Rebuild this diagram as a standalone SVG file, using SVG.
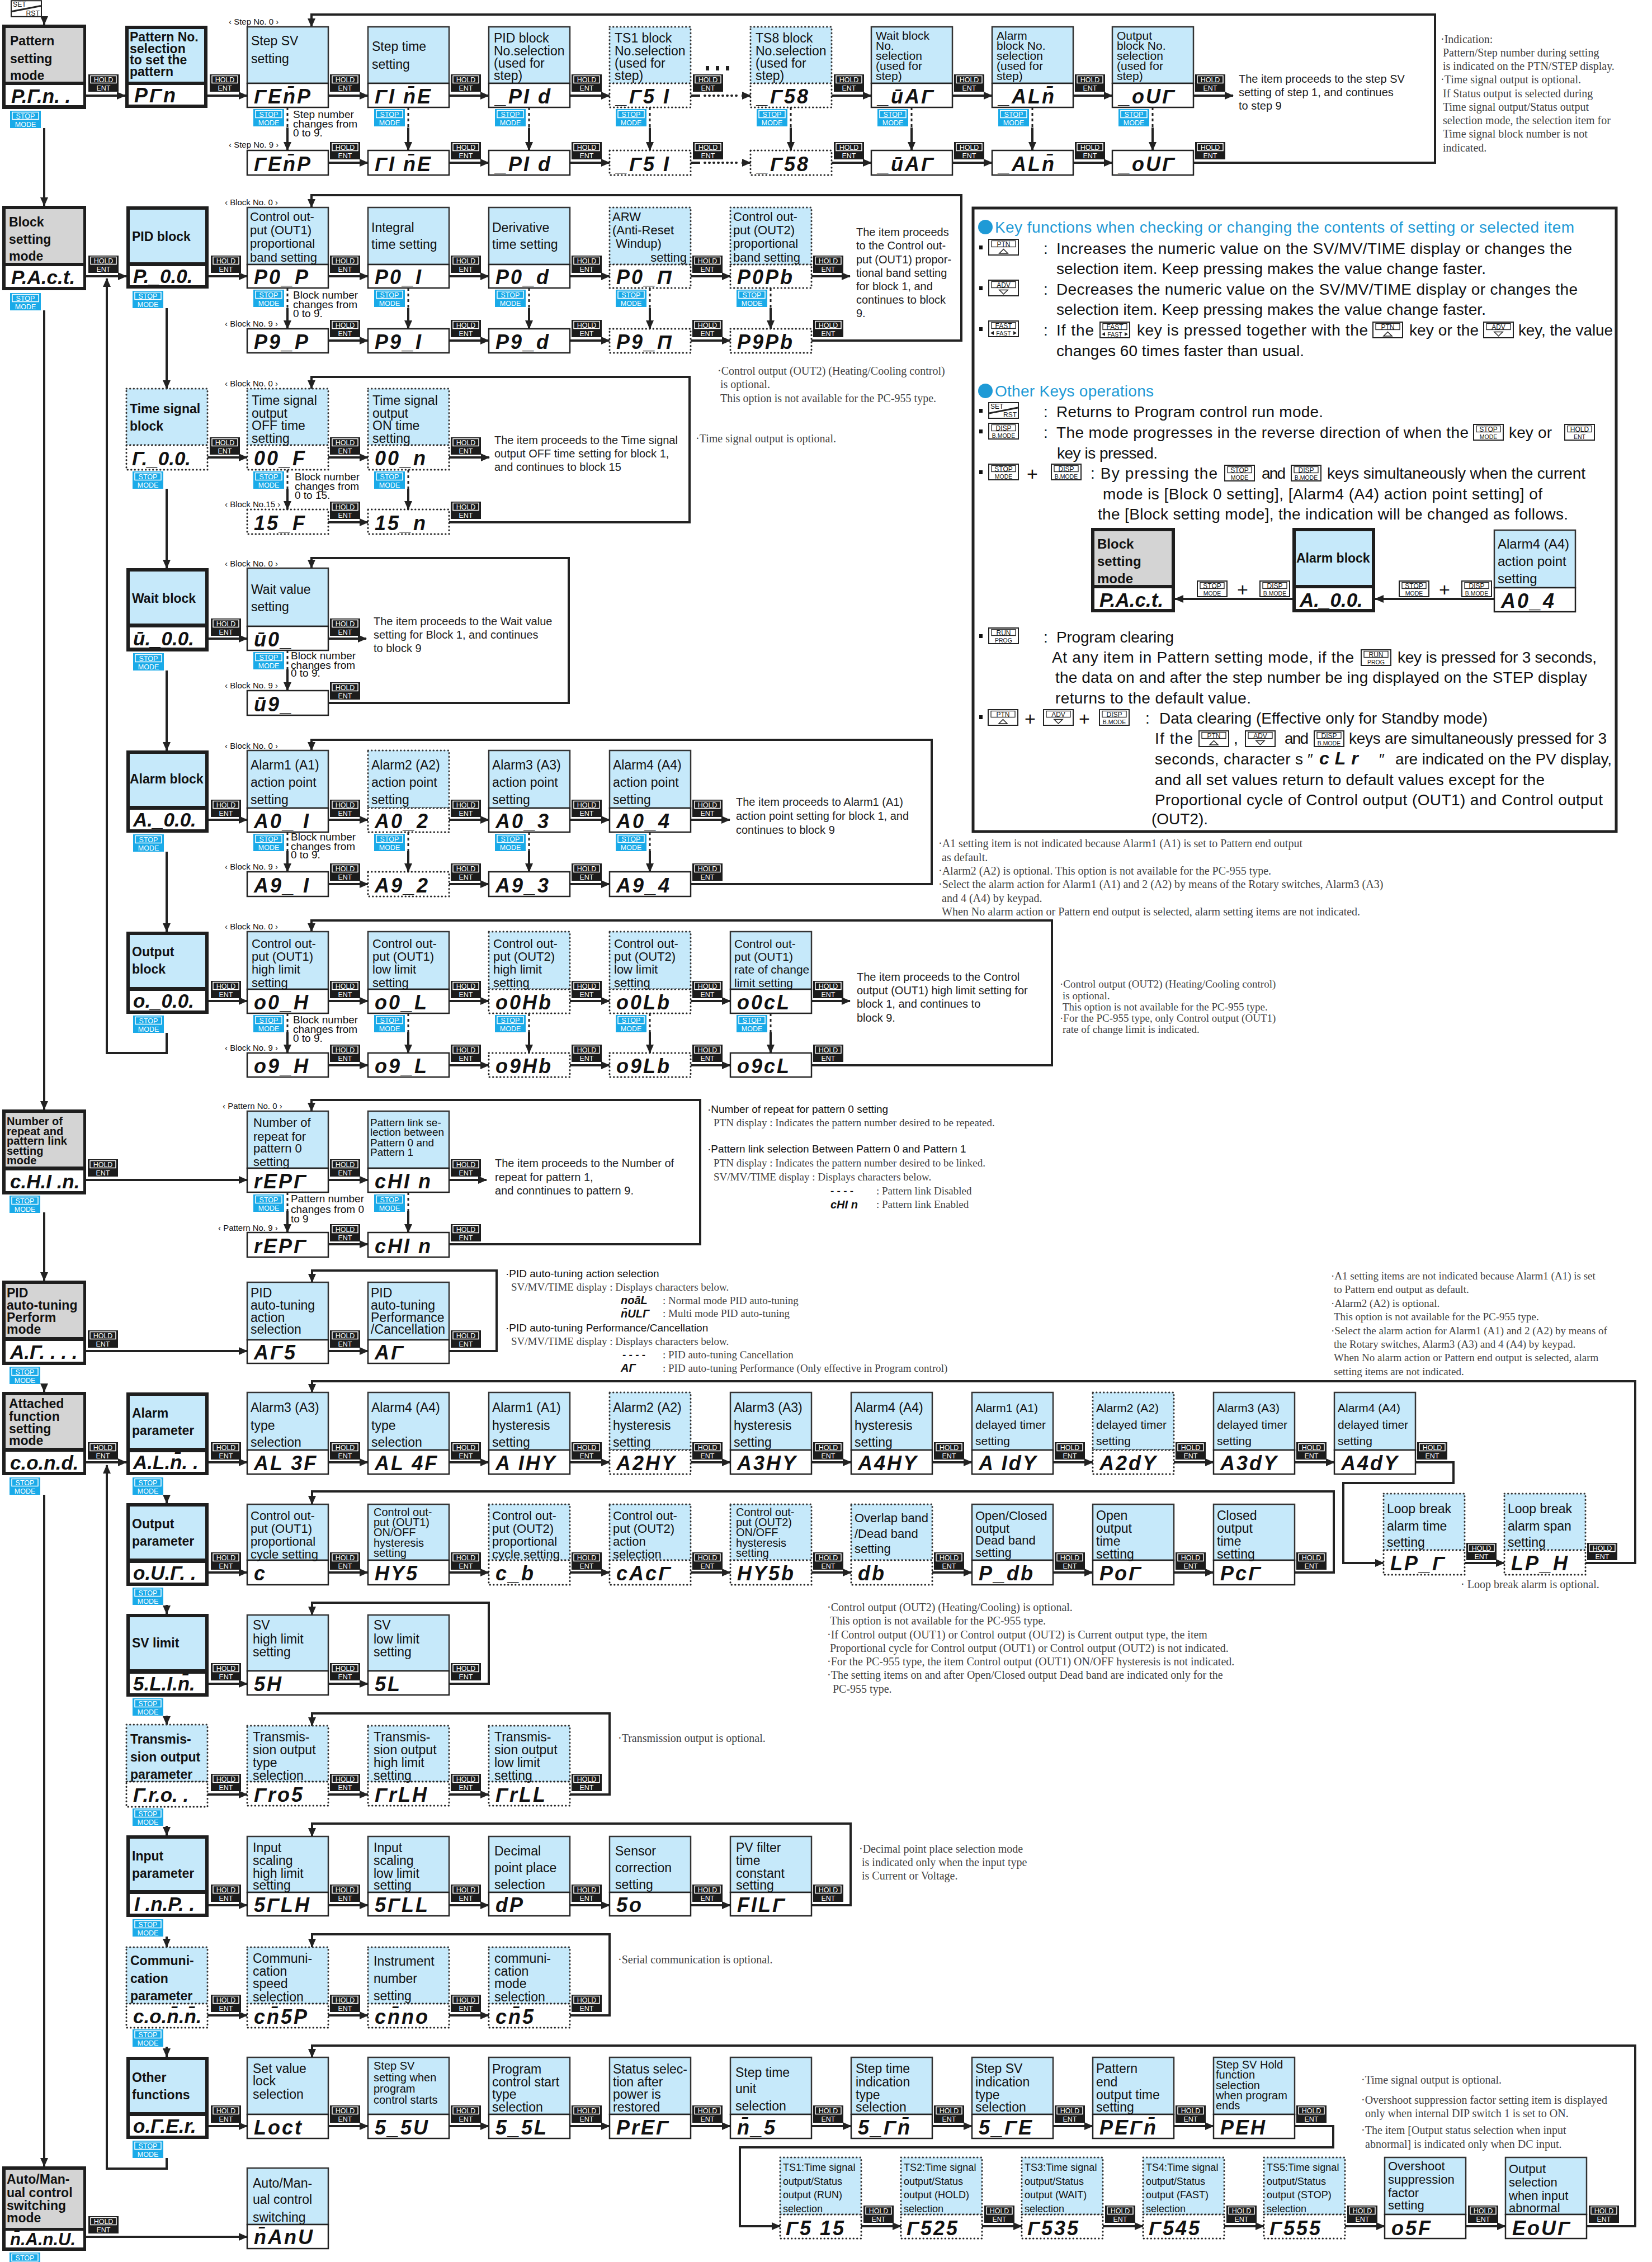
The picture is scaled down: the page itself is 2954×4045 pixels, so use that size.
<svg xmlns="http://www.w3.org/2000/svg" width="2954" height="4045" viewBox="0 0 2954 4045">
<style>
.lb{fill:#c6e9fa;stroke:#333;stroke-width:2.5}
.lbd{fill:#c6e9fa;stroke:#333;stroke-width:3;stroke-dasharray:0.5 6;stroke-linecap:round}
.ds{fill:#fff;stroke:#222;stroke-width:2.5}
.dsd{fill:#fff;stroke:#222;stroke-width:3;stroke-dasharray:0.5 6;stroke-linecap:round}
.fr{fill:#1e1e1e}
.gy{fill:#d4d4d4}
.bl{fill:#c6e9fa}
.wh{fill:#fff}
text{font-family:"Liberation Sans",Arial,sans-serif;fill:#111}
.t{font-size:23px}
.t22{font-size:22px}
.t21{font-size:21px}
.t20{font-size:20px}
.t19{font-size:19px}
.t18{font-size:18px}
.b{font-weight:bold}
.g7{font-size:36px;font-style:italic;font-weight:bold;letter-spacing:3px}
.g7n{font-size:35px;font-style:italic;font-weight:bold;letter-spacing:0px}
.nt{font-family:"Liberation Serif","Times New Roman",serif;font-size:20px;fill:#444}
.nt19{font-family:"Liberation Serif","Times New Roman",serif;font-size:19px;fill:#444}
.sm{font-size:15px}
.pi{font-size:20px;fill:#222}
.pn{font-size:28px}
.ttl{font-size:28px;fill:#1e9ad6}
.kw{fill:#fff;font-size:12.5px}
.kb{fill:#111;font-size:12px}
.kb2{fill:#111;font-size:10.5px}
.ln{fill:none;stroke:#222;stroke-width:4}
.ar{fill:none;stroke:#222;stroke-width:4;marker-end:url(#ah)}
.lnd{fill:none;stroke:#222;stroke-width:3;stroke-dasharray:5 5}
.dt{fill:none;stroke:#222;stroke-width:4;stroke-dasharray:1 7;stroke-linecap:round}
</style>
<defs>
<marker id="ah" markerUnits="userSpaceOnUse" markerWidth="16" markerHeight="14" refX="15" refY="7" orient="auto"><path d="M0,0 L16,7 L0,14 Z" fill="#222"/></marker>
<symbol id="kh" viewBox="0 0 54 31"><rect width="54" height="31" fill="#1c1c1c"/><rect x="4" y="2.5" width="46" height="13" fill="none" stroke="#fff" stroke-width="1.5"/><text class="kw" x="27" y="14" text-anchor="middle">HOLD</text><text class="kw" x="27" y="28.5" text-anchor="middle">ENT</text></symbol>
<symbol id="ks" viewBox="0 0 55 31"><rect width="55" height="31" fill="#1aaae8"/><rect x="4" y="2.5" width="47" height="13" fill="none" stroke="#fff" stroke-width="1.5"/><text class="kw" x="27.5" y="14" text-anchor="middle">STOP</text><text class="kw" x="27.5" y="28.5" text-anchor="middle">MODE</text></symbol>
<symbol id="oPTN" viewBox="0 0 55 30"><rect x="1" y="1" width="53" height="28" fill="#fff" stroke="#222" stroke-width="2"/><rect x="6" y="3.5" width="43" height="11" fill="none" stroke="#222" stroke-width="1.3"/><text class="kb" x="27.5" y="13.5" text-anchor="middle">PTN</text><path d="M20,26 L27.5,18.5 L35,26 Z" fill="none" stroke="#222" stroke-width="1.5"/></symbol>
<symbol id="oADV" viewBox="0 0 55 30"><rect x="1" y="1" width="53" height="28" fill="#fff" stroke="#222" stroke-width="2"/><rect x="6" y="3.5" width="43" height="11" fill="none" stroke="#222" stroke-width="1.3"/><text class="kb" x="27.5" y="13.5" text-anchor="middle">ADV</text><path d="M20,18.5 L35,18.5 L27.5,26 Z" fill="none" stroke="#222" stroke-width="1.5"/></symbol>
<symbol id="oFAST" viewBox="0 0 55 30"><rect x="1" y="1" width="53" height="28" fill="#fff" stroke="#222" stroke-width="2"/><rect x="6" y="3.5" width="43" height="11" fill="none" stroke="#222" stroke-width="1.3"/><text class="kb" x="27.5" y="13.5" text-anchor="middle">FAST</text><text class="kb2" x="27.5" y="26.5" text-anchor="middle">FAST</text><path d="M4,22.5 L10,19 L10,26 Z M51,22.5 L45,19 L45,26 Z" fill="#222"/></symbol>
<symbol id="oSET" viewBox="0 0 55 30"><rect x="1" y="1" width="53" height="28" fill="#fff" stroke="#222" stroke-width="2"/><path d="M2,20 L53,10" stroke="#222" stroke-width="3"/><text class="kb" x="4" y="12">SET</text><text class="kb" x="51" y="27" text-anchor="end">RST</text></symbol>
<symbol id="oDISP" viewBox="0 0 55 30"><rect x="1" y="1" width="53" height="28" fill="#fff" stroke="#222" stroke-width="2"/><rect x="6" y="3.5" width="43" height="11" fill="none" stroke="#222" stroke-width="1.3"/><text class="kb" x="27.5" y="13.5" text-anchor="middle">DISP</text><text class="kb2" x="27.5" y="26.5" text-anchor="middle">B.MODE</text></symbol>
<symbol id="oSTOP" viewBox="0 0 55 30"><rect x="1" y="1" width="53" height="28" fill="#fff" stroke="#222" stroke-width="2"/><rect x="6" y="3.5" width="43" height="11" fill="none" stroke="#222" stroke-width="1.3"/><text class="kb" x="27.5" y="13.5" text-anchor="middle">STOP</text><text class="kb2" x="27.5" y="26.5" text-anchor="middle">MODE</text></symbol>
<symbol id="oHOLD" viewBox="0 0 55 30"><rect x="1" y="1" width="53" height="28" fill="#fff" stroke="#222" stroke-width="2"/><rect x="6" y="3.5" width="43" height="11" fill="none" stroke="#222" stroke-width="1.3"/><text class="kb" x="27.5" y="13.5" text-anchor="middle">HOLD</text><text class="kb2" x="27.5" y="26.5" text-anchor="middle">ENT</text></symbol>
<symbol id="oRUN" viewBox="0 0 55 30"><rect x="1" y="1" width="53" height="28" fill="#fff" stroke="#222" stroke-width="2"/><rect x="6" y="3.5" width="43" height="11" fill="none" stroke="#222" stroke-width="1.3"/><text class="kb" x="27.5" y="13.5" text-anchor="middle">RUN</text><text class="kb2" x="27.5" y="26.5" text-anchor="middle">PROG</text></symbol>
</defs>
<rect width="2954" height="4045" fill="#fff"/>

<!-- ================= CONNECTORS ================= -->
<g id="connectors">
<path class="ar" d="M79,30 V44"/>
<path class="ar" d="M154,171 H224"/><path class="ar" d="M371,171 H442"/><path class="ar" d="M587,171 H658"/><path class="ar" d="M803,171 H874"/><path class="ar" d="M1019,171 H1090"/>
<path class="ln" d="M1235,171 H1252"/><path class="dt" d="M1260,171 H1322"/><path class="ar" d="M1326,171 H1342"/>
<path class="ar" d="M1487,171 H1558"/><path class="ar" d="M1703,171 H1774"/><path class="ar" d="M1919,171 H1989"/><path class="ar" d="M2134,171 H2205"/>
<path class="ar" d="M587,291 H658"/><path class="ar" d="M803,291 H874"/><path class="ar" d="M1019,291 H1090"/>
<path class="ln" d="M1235,291 H1252"/><path class="dt" d="M1260,291 H1322"/><path class="ar" d="M1326,291 H1342"/>
<path class="ar" d="M1487,291 H1558"/><path class="ar" d="M1703,291 H1774"/><path class="ar" d="M1919,291 H1989"/>
<path class="ar" d="M2134,291 H2566 V26 H557 V48"/>
<path class="lnd" d="M514,192 V228 M730,192 V228 M946,192 V228 M1162,192 V228 M1414,192 V228 M1630,192 V228 M1846,192 V228 M2061,192 V228"/>
<path class="ar" d="M514,228 V269"/><path class="ar" d="M730,228 V269"/><path class="ar" d="M946,228 V269"/><path class="ar" d="M1162,228 V269"/><path class="ar" d="M1414,228 V269"/><path class="ar" d="M1630,228 V269"/><path class="ar" d="M1846,228 V269"/><path class="ar" d="M2061,228 V269"/>
<path class="ar" d="M79,229 V368"/>
<path class="ar" d="M153,494 H226"/><path class="ar" d="M373,494 H442"/><path class="ar" d="M587,494 H658"/><path class="ar" d="M803,494 H874"/><path class="ar" d="M1019,494 H1090"/><path class="ar" d="M1235,494 H1306"/><path class="ar" d="M1451,494 H1520"/>
<path class="ar" d="M587,609 H658"/><path class="ar" d="M803,609 H874"/><path class="ar" d="M1019,609 H1090"/><path class="ar" d="M1235,609 H1306"/>
<path class="ar" d="M1451,609 H1719 V349 H557 V371"/>
<path class="lnd" d="M514,515 V551 M730,515 V551 M946,515 V551 M1162,515 V551 M1378,515 V551"/>
<path class="ar" d="M514,551 V588"/><path class="ar" d="M730,551 V588"/><path class="ar" d="M946,551 V588"/><path class="ar" d="M1162,551 V588"/><path class="ar" d="M1378,551 V588"/>
<path class="ar" d="M79,555 V1984"/>
<path class="ar" d="M298,551 V695"/><path class="ar" d="M298,874 V1016"/><path class="ar" d="M298,1199 V1342"/><path class="ar" d="M298,1523 V1666"/>
<path class="ar" d="M298,1847 V1883 H191 V498"/>
<path class="ar" d="M371,818 H442"/><path class="ar" d="M587,818 H658"/><path class="ar" d="M803,818 H875"/>
<path class="ar" d="M587,934 H658"/><path class="ar" d="M803,934 H1233 V674 H557 V695"/>
<path class="lnd" d="M514,840 V874 M730,840 V874"/><path class="ar" d="M514,874 V911"/><path class="ar" d="M730,874 V911"/>
<path class="ar" d="M373,1142 H442"/><path class="ar" d="M587,1142 H655"/>
<path class="ar" d="M587,1257 H1017 V998 H557 V1016"/>
<path class="lnd" d="M514,1163 V1197"/><path class="ar" d="M514,1197 V1235"/>
<path class="ar" d="M373,1466 H442"/><path class="ar" d="M587,1466 H658"/><path class="ar" d="M803,1466 H874"/><path class="ar" d="M1019,1466 H1090"/><path class="ar" d="M1235,1466 H1305"/>
<path class="ar" d="M587,1581 H658"/><path class="ar" d="M803,1581 H874"/><path class="ar" d="M1019,1581 H1090"/>
<path class="ar" d="M1235,1581 H1666 V1323 H557 V1342"/>
<path class="lnd" d="M514,1488 V1522 M730,1488 V1522 M946,1488 V1522 M1162,1488 V1522"/>
<path class="ar" d="M514,1522 V1559"/><path class="ar" d="M730,1522 V1559"/><path class="ar" d="M946,1522 V1559"/><path class="ar" d="M1162,1522 V1559"/>
<path class="ar" d="M373,1790 H442"/><path class="ar" d="M587,1790 H658"/><path class="ar" d="M803,1790 H874"/><path class="ar" d="M1019,1790 H1090"/><path class="ar" d="M1235,1790 H1306"/><path class="ar" d="M1451,1790 H1520"/>
<path class="ar" d="M587,1905 H658"/><path class="ar" d="M803,1905 H874"/><path class="ar" d="M1019,1905 H1090"/><path class="ar" d="M1235,1905 H1306"/>
<path class="ar" d="M1451,1905 H1881 V1646 H557 V1666"/>
<path class="lnd" d="M514,1812 V1846 M730,1812 V1846 M946,1812 V1846 M1162,1812 V1846 M1378,1812 V1846"/>
<path class="ar" d="M514,1846 V1883"/><path class="ar" d="M730,1846 V1883"/><path class="ar" d="M946,1846 V1883"/><path class="ar" d="M1162,1846 V1883"/><path class="ar" d="M1378,1846 V1883"/>
<path class="ar" d="M154,2110 H442"/><path class="ar" d="M587,2110 H658"/><path class="ar" d="M803,2110 H870"/>
<path class="ar" d="M587,2225 H658"/><path class="ar" d="M803,2225 H1252 V1967 H557 V1987"/>
<path class="lnd" d="M514,2132 V2166 M730,2132 V2166"/><path class="ar" d="M514,2166 V2204"/><path class="ar" d="M730,2166 V2204"/>
<path class="ar" d="M79,2168 V2290"/>
<path class="ar" d="M154,2416 H442"/><path class="ar" d="M587,2416 H658"/>
<path class="ar" d="M803,2416 H888 V2272 H558 V2293"/>
<path class="ar" d="M79,2474 V2489"/>
<path class="ar" d="M154,2615 H226"/><path class="ar" d="M373,2615 H442"/><path class="ar" d="M587,2615 H658"/><path class="ar" d="M803,2615 H874"/><path class="ar" d="M1019,2615 H1090"/><path class="ar" d="M1235,2615 H1306"/><path class="ar" d="M1451,2615 H1522"/><path class="ar" d="M1667,2615 H1738"/><path class="ar" d="M1883,2615 H1954"/><path class="ar" d="M2099,2615 H2170"/><path class="ar" d="M2315,2615 H2386"/>
<path class="ar" d="M2531,2615 H2599 V2652 H2402 V2795 H2474"/>
<path class="ar" d="M2619,2795 H2690"/>
<path class="ar" d="M2835,2795 H2924 V2470 H558 V2490"/>
<path class="ar" d="M373,2812 H442"/><path class="ar" d="M587,2812 H658"/><path class="ar" d="M803,2812 H874"/><path class="ar" d="M1019,2812 H1090"/><path class="ar" d="M1235,2812 H1306"/><path class="ar" d="M1451,2812 H1522"/><path class="ar" d="M1667,2812 H1738"/><path class="ar" d="M1883,2812 H1954"/><path class="ar" d="M2099,2812 H2170"/>
<path class="ar" d="M2315,2812 H2385 V2667 H558 V2690"/>
<path class="ar" d="M373,3011 H442"/><path class="ar" d="M587,3011 H658"/><path class="ar" d="M803,3011 H874 V2866 H558 V2888"/>
<path class="ar" d="M371,3209 H442"/><path class="ar" d="M587,3209 H658"/><path class="ar" d="M803,3209 H874"/><path class="ar" d="M1019,3209 H1090 V3064 H558 V3086"/>
<path class="ar" d="M373,3407 H442"/><path class="ar" d="M587,3407 H658"/><path class="ar" d="M803,3407 H874"/><path class="ar" d="M1019,3407 H1090"/><path class="ar" d="M1235,3407 H1306"/><path class="ar" d="M1451,3407 H1521 V3261 H558 V3284"/>
<path class="ar" d="M371,3604 H442"/><path class="ar" d="M587,3604 H658"/><path class="ar" d="M803,3604 H874"/><path class="ar" d="M1019,3604 H1090 V3459 H558 V3482"/>
<path class="ar" d="M373,3802 H442"/><path class="ar" d="M587,3802 H658"/><path class="ar" d="M803,3802 H874"/><path class="ar" d="M1019,3802 H1090"/><path class="ar" d="M1235,3802 H1306"/><path class="ar" d="M1451,3802 H1522"/><path class="ar" d="M1667,3802 H1738"/><path class="ar" d="M1883,3802 H1954"/><path class="ar" d="M2099,3802 H2170"/>
<path class="ar" d="M2315,3802 H2384 V3840 H1323 V3981 H1395"/>
<path class="ar" d="M1540,3981 H1611"/><path class="ar" d="M1756,3981 H1827"/><path class="ar" d="M1972,3981 H2044"/><path class="ar" d="M2189,3981 H2260"/><path class="ar" d="M2405,3981 H2476"/><path class="ar" d="M2621,3981 H2692"/>
<path class="ar" d="M2837,3981 H2924 V3658 H558 V3679"/>
<path class="ar" d="M298,2673 V2688"/><path class="ar" d="M298,2870 V2886"/><path class="ar" d="M298,3068 V3084"/><path class="ar" d="M298,3265 V3282"/><path class="ar" d="M298,3463 V3482"/><path class="ar" d="M298,3660 V3678"/>
<path class="ar" d="M298,3859 V3878 H191 V2620"/>
<path class="ar" d="M79,2673 V3874"/>
<path class="ar" d="M154,4000 H442"/>
<path class="ar" d="M2672,1071 H2459"/><path class="ar" d="M2311,1071 H2101"/>
</g>

<!-- ================= KEYS ================= -->
<g id="keys">
<use href="#oSET" x="19" y="0" width="56" height="31"/>
<use href="#kh" x="158" y="133" width="54" height="31"/><use href="#kh" x="375" y="133" width="54" height="31"/><use href="#kh" x="590" y="133" width="54" height="31"/><use href="#kh" x="806" y="133" width="54" height="31"/><use href="#kh" x="1022" y="133" width="54" height="31"/><use href="#kh" x="1239" y="133" width="54" height="31"/><use href="#kh" x="1491" y="133" width="54" height="31"/><use href="#kh" x="1706" y="133" width="54" height="31"/><use href="#kh" x="1922" y="133" width="54" height="31"/><use href="#kh" x="2137" y="133" width="54" height="31"/>
<use href="#kh" x="590" y="254" width="54" height="31"/><use href="#kh" x="806" y="254" width="54" height="31"/><use href="#kh" x="1022" y="254" width="54" height="31"/><use href="#kh" x="1239" y="254" width="54" height="31"/><use href="#kh" x="1491" y="254" width="54" height="31"/><use href="#kh" x="1706" y="254" width="54" height="31"/><use href="#kh" x="1922" y="254" width="54" height="31"/><use href="#kh" x="2137" y="254" width="54" height="31"/>
<use href="#ks" x="18" y="198" width="55" height="31"/><use href="#ks" x="453" y="195" width="55" height="31"/><use href="#ks" x="669" y="195" width="55" height="31"/><use href="#ks" x="885" y="195" width="55" height="31"/><use href="#ks" x="1101" y="195" width="55" height="31"/><use href="#ks" x="1353" y="195" width="55" height="31"/><use href="#ks" x="1569" y="195" width="55" height="31"/><use href="#ks" x="1785" y="195" width="55" height="31"/><use href="#ks" x="2000" y="195" width="55" height="31"/>
<use href="#kh" x="158" y="457" width="54" height="31"/><use href="#kh" x="377" y="457" width="54" height="31"/><use href="#kh" x="590" y="457" width="54" height="31"/><use href="#kh" x="806" y="457" width="54" height="31"/><use href="#kh" x="1022" y="457" width="54" height="31"/><use href="#kh" x="1238" y="457" width="54" height="31"/><use href="#kh" x="1454" y="457" width="54" height="31"/>
<use href="#kh" x="590" y="572" width="54" height="31"/><use href="#kh" x="806" y="572" width="54" height="31"/><use href="#kh" x="1022" y="572" width="54" height="31"/><use href="#kh" x="1238" y="572" width="54" height="31"/><use href="#kh" x="1454" y="572" width="54" height="31"/>
<use href="#ks" x="18" y="524" width="55" height="31"/><use href="#ks" x="237" y="520" width="55" height="31"/><use href="#ks" x="453" y="518" width="55" height="31"/><use href="#ks" x="669" y="518" width="55" height="31"/><use href="#ks" x="885" y="518" width="55" height="31"/><use href="#ks" x="1101" y="518" width="55" height="31"/><use href="#ks" x="1317" y="518" width="55" height="31"/>
<use href="#kh" x="375" y="782" width="54" height="31"/><use href="#kh" x="590" y="782" width="54" height="31"/><use href="#kh" x="806" y="782" width="54" height="31"/><use href="#kh" x="590" y="897" width="54" height="31"/><use href="#kh" x="806" y="897" width="54" height="31"/>
<use href="#ks" x="237" y="843" width="55" height="31"/><use href="#ks" x="453" y="843" width="55" height="31"/><use href="#ks" x="669" y="843" width="55" height="31"/>
<use href="#kh" x="377" y="1106" width="54" height="31"/><use href="#kh" x="590" y="1106" width="54" height="31"/><use href="#kh" x="590" y="1220" width="54" height="31"/>
<use href="#ks" x="238" y="1168" width="55" height="31"/><use href="#ks" x="453" y="1166" width="55" height="31"/>
<use href="#kh" x="377" y="1430" width="54" height="31"/><use href="#kh" x="590" y="1430" width="54" height="31"/><use href="#kh" x="806" y="1430" width="54" height="31"/><use href="#kh" x="1022" y="1430" width="54" height="31"/><use href="#kh" x="1238" y="1430" width="54" height="31"/>
<use href="#kh" x="590" y="1544" width="54" height="31"/><use href="#kh" x="806" y="1544" width="54" height="31"/><use href="#kh" x="1022" y="1544" width="54" height="31"/><use href="#kh" x="1238" y="1544" width="54" height="31"/>
<use href="#ks" x="238" y="1492" width="55" height="31"/><use href="#ks" x="453" y="1491" width="55" height="31"/><use href="#ks" x="669" y="1491" width="55" height="31"/><use href="#ks" x="885" y="1491" width="55" height="31"/><use href="#ks" x="1101" y="1491" width="55" height="31"/>
<use href="#kh" x="377" y="1754" width="54" height="31"/><use href="#kh" x="590" y="1754" width="54" height="31"/><use href="#kh" x="806" y="1754" width="54" height="31"/><use href="#kh" x="1022" y="1754" width="54" height="31"/><use href="#kh" x="1238" y="1754" width="54" height="31"/><use href="#kh" x="1454" y="1754" width="54" height="31"/>
<use href="#kh" x="590" y="1868" width="54" height="31"/><use href="#kh" x="806" y="1868" width="54" height="31"/><use href="#kh" x="1022" y="1868" width="54" height="31"/><use href="#kh" x="1238" y="1868" width="54" height="31"/><use href="#kh" x="1454" y="1868" width="54" height="31"/>
<use href="#ks" x="238" y="1816" width="55" height="31"/><use href="#ks" x="453" y="1815" width="55" height="31"/><use href="#ks" x="669" y="1815" width="55" height="31"/><use href="#ks" x="885" y="1815" width="55" height="31"/><use href="#ks" x="1101" y="1815" width="55" height="31"/><use href="#ks" x="1317" y="1815" width="55" height="31"/>
<use href="#kh" x="157" y="2073" width="54" height="31"/><use href="#kh" x="590" y="2073" width="54" height="31"/><use href="#kh" x="806" y="2073" width="54" height="31"/><use href="#kh" x="590" y="2189" width="54" height="31"/><use href="#kh" x="806" y="2189" width="54" height="31"/>
<use href="#ks" x="17" y="2138" width="55" height="31"/><use href="#ks" x="453" y="2136" width="55" height="31"/><use href="#ks" x="669" y="2136" width="55" height="31"/>
<use href="#kh" x="157" y="2379" width="54" height="31"/><use href="#kh" x="590" y="2379" width="54" height="31"/><use href="#kh" x="806" y="2379" width="54" height="31"/>
<use href="#ks" x="17" y="2444" width="55" height="31"/>
<use href="#kh" x="157" y="2579" width="54" height="31"/><use href="#kh" x="377" y="2579" width="54" height="31"/><use href="#kh" x="590" y="2579" width="54" height="31"/><use href="#kh" x="806" y="2579" width="54" height="31"/><use href="#kh" x="1022" y="2579" width="54" height="31"/><use href="#kh" x="1238" y="2579" width="54" height="31"/><use href="#kh" x="1454" y="2579" width="54" height="31"/><use href="#kh" x="1670" y="2579" width="54" height="31"/><use href="#kh" x="1886" y="2579" width="54" height="31"/><use href="#kh" x="2102" y="2579" width="54" height="31"/><use href="#kh" x="2318" y="2579" width="54" height="31"/><use href="#kh" x="2534" y="2579" width="54" height="31"/>
<use href="#kh" x="2622" y="2759" width="54" height="31"/><use href="#kh" x="2838" y="2759" width="54" height="31"/>
<use href="#ks" x="17" y="2642" width="55" height="31"/><use href="#ks" x="237" y="2642" width="55" height="31"/>
<use href="#kh" x="377" y="2776" width="54" height="31"/><use href="#kh" x="590" y="2776" width="54" height="31"/><use href="#kh" x="806" y="2776" width="54" height="31"/><use href="#kh" x="1022" y="2776" width="54" height="31"/><use href="#kh" x="1238" y="2776" width="54" height="31"/><use href="#kh" x="1454" y="2776" width="54" height="31"/><use href="#kh" x="1670" y="2776" width="54" height="31"/><use href="#kh" x="1886" y="2776" width="54" height="31"/><use href="#kh" x="2102" y="2776" width="54" height="31"/><use href="#kh" x="2318" y="2776" width="54" height="31"/>
<use href="#ks" x="237" y="2839" width="55" height="31"/>
<use href="#kh" x="377" y="2974" width="54" height="31"/><use href="#kh" x="590" y="2974" width="54" height="31"/><use href="#kh" x="806" y="2974" width="54" height="31"/>
<use href="#ks" x="237" y="3037" width="55" height="31"/>
<use href="#kh" x="377" y="3172" width="54" height="31"/><use href="#kh" x="590" y="3172" width="54" height="31"/><use href="#kh" x="806" y="3172" width="54" height="31"/><use href="#kh" x="1022" y="3172" width="54" height="31"/>
<use href="#ks" x="237" y="3234" width="55" height="31"/>
<use href="#kh" x="377" y="3370" width="54" height="31"/><use href="#kh" x="590" y="3370" width="54" height="31"/><use href="#kh" x="806" y="3370" width="54" height="31"/><use href="#kh" x="1022" y="3370" width="54" height="31"/><use href="#kh" x="1238" y="3370" width="54" height="31"/><use href="#kh" x="1454" y="3370" width="54" height="31"/>
<use href="#ks" x="237" y="3432" width="55" height="31"/>
<use href="#kh" x="377" y="3567" width="54" height="31"/><use href="#kh" x="590" y="3567" width="54" height="31"/><use href="#kh" x="806" y="3567" width="54" height="31"/><use href="#kh" x="1022" y="3567" width="54" height="31"/>
<use href="#ks" x="237" y="3629" width="55" height="31"/>
<use href="#kh" x="377" y="3765" width="54" height="31"/><use href="#kh" x="590" y="3765" width="54" height="31"/><use href="#kh" x="806" y="3765" width="54" height="31"/><use href="#kh" x="1022" y="3765" width="54" height="31"/><use href="#kh" x="1238" y="3765" width="54" height="31"/><use href="#kh" x="1454" y="3765" width="54" height="31"/><use href="#kh" x="1670" y="3765" width="54" height="31"/><use href="#kh" x="1886" y="3765" width="54" height="31"/><use href="#kh" x="2102" y="3765" width="54" height="31"/><use href="#kh" x="2318" y="3765" width="54" height="31"/>
<use href="#ks" x="237" y="3828" width="55" height="31"/>
<use href="#kh" x="1544" y="3944" width="54" height="31"/><use href="#kh" x="1760" y="3944" width="54" height="31"/><use href="#kh" x="1976" y="3944" width="54" height="31"/><use href="#kh" x="2193" y="3944" width="54" height="31"/><use href="#kh" x="2409" y="3944" width="54" height="31"/><use href="#kh" x="2625" y="3944" width="54" height="31"/><use href="#kh" x="2841" y="3944" width="54" height="31"/>
<use href="#kh" x="158" y="3963" width="54" height="31"/>
<use href="#ks" x="17" y="4028" width="55" height="31"/>
</g>

<!-- ================= SECTION: PATTERN ================= -->
<g id="mode-pattern"><rect class="fr" x="4" y="44" width="150" height="151"/><rect class="gy" x="10" y="50" width="139" height="96"/><rect class="wh" x="10" y="152" width="139" height="36"/><text class="t b"><tspan x="18" y="81">Pattern</tspan><tspan x="18" y="113">setting</tspan><tspan x="18" y="143">mode</tspan></text><text class="g7n" x="20" y="184">P.Γ.n. .</text></g>
<g id="n-ptnsel"><rect class="fr" x="224" y="46" width="147" height="147"/><rect class="bl" x="230" y="52" width="135" height="94"/><rect class="wh" x="230" y="152" width="135" height="35"/><text class="t b"><tspan x="232" y="74">Pattern No.</tspan><tspan x="232" y="95">selection</tspan><tspan x="232" y="115">to set the</tspan><tspan x="232" y="136">pattern</tspan></text><text class="g7" x="240" y="183">PΓn</text></g>
<g id="n-stepsv"><rect class="lb" x="442" y="48" width="145" height="101"/><rect class="ds" x="442" y="149" width="145" height="43"/><text class="t"><tspan x="449" y="81">Step SV</tspan><tspan x="449" y="113">setting</tspan></text><text class="g7" x="454" y="185">ΓEn̄P</text></g>
<g id="n-steptime"><rect class="lb" x="658" y="48" width="145" height="101"/><rect class="ds" x="658" y="149" width="145" height="43"/><text class="t"><tspan x="665" y="91">Step time</tspan><tspan x="665" y="123">setting</tspan></text><text class="g7" x="670" y="185">ΓI n̄E</text></g>
<g id="n-pidno"><rect class="lb" x="874" y="48" width="145" height="101"/><rect class="ds" x="874" y="149" width="145" height="43"/><text class="t"><tspan x="883" y="76">PID block</tspan><tspan x="883" y="99">No.selection</tspan><tspan x="883" y="121">(used for</tspan><tspan x="883" y="143">step)</tspan></text><text class="g7" x="886" y="185">_PI d</text></g>
<g id="n-ts1no"><rect class="lbd" x="1090" y="48" width="145" height="101"/><rect class="dsd" x="1090" y="149" width="145" height="43"/><text class="t"><tspan x="1099" y="76">TS1 block</tspan><tspan x="1099" y="99">No.selection</tspan><tspan x="1099" y="121">(used for</tspan><tspan x="1099" y="143">step)</tspan></text><text class="g7" x="1102" y="185">_Γ5 I</text></g>
<g id="dots"><rect x="1262" y="118" width="6" height="8" fill="#222"/><rect x="1280" y="118" width="6" height="8" fill="#222"/><rect x="1298" y="118" width="6" height="8" fill="#222"/></g>
<g id="n-ts8no"><rect class="lbd" x="1342" y="48" width="145" height="101"/><rect class="dsd" x="1342" y="149" width="145" height="43"/><text class="t"><tspan x="1351" y="76">TS8 block</tspan><tspan x="1351" y="99">No.selection</tspan><tspan x="1351" y="121">(used for</tspan><tspan x="1351" y="143">step)</tspan></text><text class="g7" x="1354" y="185">_Γ58</text></g>
<g id="n-waitno"><rect class="lb" x="1558" y="48" width="145" height="101"/><rect class="ds" x="1558" y="149" width="145" height="43"/><text class="t21"><tspan x="1566" y="71">Wait block</tspan><tspan x="1566" y="89">No.</tspan><tspan x="1566" y="107">selection</tspan><tspan x="1566" y="125">(used for</tspan><tspan x="1566" y="143">step)</tspan></text><text class="g7" x="1570" y="185">_ūAΓ</text></g>
<g id="n-alarmno"><rect class="lb" x="1774" y="48" width="145" height="101"/><rect class="ds" x="1774" y="149" width="145" height="43"/><text class="t21"><tspan x="1782" y="71">Alarm</tspan><tspan x="1782" y="89">block No.</tspan><tspan x="1782" y="107">selection</tspan><tspan x="1782" y="125">(used for</tspan><tspan x="1782" y="143">step)</tspan></text><text class="g7" x="1786" y="185">_ALn̄</text></g>
<g id="n-outno"><rect class="lb" x="1989" y="48" width="145" height="101"/><rect class="ds" x="1989" y="149" width="145" height="43"/><text class="t21"><tspan x="1997" y="71">Output</tspan><tspan x="1997" y="89">block No.</tspan><tspan x="1997" y="107">selection</tspan><tspan x="1997" y="125">(used for</tspan><tspan x="1997" y="143">step)</tspan></text><text class="g7" x="2001" y="185">_oUΓ</text></g>
<g id="n-stepsv-9"><rect class="ds" x="442" y="269" width="145" height="44"/><text class="g7" x="454" y="306">ΓEn̄P</text></g>
<g id="n-steptime-9"><rect class="ds" x="658" y="269" width="145" height="44"/><text class="g7" x="670" y="306">ΓI n̄E</text></g>
<g id="n-pidno-9"><rect class="ds" x="874" y="269" width="145" height="44"/><text class="g7" x="886" y="306">_PI d</text></g>
<g id="n-ts1no-9"><rect class="dsd" x="1090" y="269" width="145" height="44"/><text class="g7" x="1102" y="306">_Γ5 I</text></g>
<g id="n-ts8no-9"><rect class="dsd" x="1342" y="269" width="145" height="44"/><text class="g7" x="1354" y="306">_Γ58</text></g>
<g id="n-waitno-9"><rect class="ds" x="1558" y="269" width="145" height="44"/><text class="g7" x="1570" y="306">_ūAΓ</text></g>
<g id="n-alarmno-9"><rect class="ds" x="1774" y="269" width="145" height="44"/><text class="g7" x="1786" y="306">_ALn̄</text></g>
<g id="n-outno-9"><rect class="ds" x="1989" y="269" width="145" height="44"/><text class="g7" x="2001" y="306">_oUΓ</text></g>
<g id="notes-pattern">
<text class="sm" x="409" y="44">‹ Step No. 0 ›</text><text class="sm" x="409" y="264">‹ Step No. 9 ›</text>
<text class="t19"><tspan x="524" y="211">Step number</tspan><tspan x="524" y="228">changes from</tspan><tspan x="524" y="244">0 to 9.</tspan></text>
<text class="pi"><tspan x="2215" y="148">The item proceeds to the step SV</tspan><tspan x="2215" y="172">setting of  step 1, and continues</tspan><tspan x="2215" y="196">to step  9</tspan></text>
<text class="nt"><tspan x="2576" y="77">·Indication:</tspan><tspan x="2580" y="101">Pattern/Step number during setting</tspan><tspan x="2580" y="125">is indicated on the PTN/STEP display.</tspan><tspan x="2576" y="149">·Time signal output is optional.</tspan><tspan x="2580" y="174">If Status output is selected during</tspan><tspan x="2580" y="198">Time signal output/Status output</tspan><tspan x="2580" y="222">selection mode, the selection item for</tspan><tspan x="2580" y="246">Time signal block number is not</tspan><tspan x="2580" y="271">indicated.</tspan></text>
</g>

<!-- ================= SECTION: BLOCK ================= -->
<g id="mode-block"><rect class="fr" x="4" y="368" width="150" height="151"/><rect class="gy" x="10" y="374" width="139" height="96"/><rect class="wh" x="10" y="476" width="139" height="37"/><text class="t b"><tspan x="16" y="405">Block</tspan><tspan x="16" y="436">setting</tspan><tspan x="16" y="466">mode</tspan></text><text class="g7n" x="20" y="508">P.A.c.t.</text></g>
<g id="n-pidblock"><rect class="fr" x="226" y="369" width="147" height="147"/><rect class="bl" x="232" y="375" width="135" height="94"/><rect class="wh" x="232" y="476" width="135" height="34"/><text class="t b" x="236" y="431">PID block</text><text class="g7n" x="238" y="506">P._0.0.</text></g>
<g id="n-p0p"><rect class="lb" x="442" y="371" width="145" height="102"/><rect class="ds" x="442" y="473" width="145" height="42"/><text class="t22"><tspan x="447" y="395">Control out-</tspan><tspan x="447" y="419">put (OUT1)</tspan><tspan x="447" y="443">proportional</tspan><tspan x="447" y="468">band setting</tspan></text><text class="g7" x="454" y="508">P0_P</text></g>
<g id="n-p0i"><rect class="lb" x="658" y="371" width="145" height="102"/><rect class="ds" x="658" y="473" width="145" height="42"/><text class="t"><tspan x="664" y="415">Integral</tspan><tspan x="664" y="445">time setting</tspan></text><text class="g7" x="670" y="508">P0_I</text></g>
<g id="n-p0d"><rect class="lb" x="874" y="371" width="145" height="102"/><rect class="ds" x="874" y="473" width="145" height="42"/><text class="t"><tspan x="880" y="415">Derivative</tspan><tspan x="880" y="445">time setting</tspan></text><text class="g7" x="886" y="508">P0_d</text></g>
<g id="n-p0arw"><rect class="lbd" x="1090" y="371" width="145" height="102"/><rect class="dsd" x="1090" y="473" width="145" height="42"/><text class="t22"><tspan x="1095" y="395">ARW</tspan><tspan x="1095" y="419">(Anti-Reset</tspan><tspan x="1101" y="443">Windup)</tspan></text><text class="t22" x="1228" y="468" text-anchor="end">setting</text><text class="g7" x="1102" y="508">P0_Π</text></g>
<g id="n-p0pb"><rect class="lbd" x="1306" y="371" width="145" height="102"/><rect class="dsd" x="1306" y="473" width="145" height="42"/><text class="t22"><tspan x="1311" y="395">Control out-</tspan><tspan x="1311" y="419">put (OUT2)</tspan><tspan x="1311" y="443">proportional</tspan><tspan x="1311" y="468">band setting</tspan></text><text class="g7" x="1318" y="508">P0Pb</text></g>
<g id="n-p9p"><rect class="ds" x="442" y="588" width="145" height="43"/><text class="g7" x="454" y="624">P9_P</text></g>
<g id="n-p9i"><rect class="ds" x="658" y="588" width="145" height="43"/><text class="g7" x="670" y="624">P9_I</text></g>
<g id="n-p9d"><rect class="ds" x="874" y="588" width="145" height="43"/><text class="g7" x="886" y="624">P9_d</text></g>
<g id="n-p9arw"><rect class="dsd" x="1090" y="588" width="145" height="43"/><text class="g7" x="1102" y="624">P9_Π</text></g>
<g id="n-p9pb"><rect class="dsd" x="1306" y="588" width="145" height="43"/><text class="g7" x="1318" y="624">P9Pb</text></g>
<g id="notes-block">
<text class="sm" x="402" y="367">‹ Block No. 0 ›</text><text class="sm" x="402" y="584">‹ Block No. 9 ›</text>
<text class="t19"><tspan x="524" y="534">Block number</tspan><tspan x="524" y="551">changes from</tspan><tspan x="524" y="567">0 to 9.</tspan></text>
<text class="pi"><tspan x="1531" y="422">The item proceeds</tspan><tspan x="1531" y="446">to the Control out-</tspan><tspan x="1531" y="471">put (OUT1) propor-</tspan><tspan x="1531" y="495">tional band setting</tspan><tspan x="1531" y="519">for block 1, and</tspan><tspan x="1531" y="543">continues to block</tspan><tspan x="1531" y="567">9.</tspan></text>
<text class="nt"><tspan x="1283" y="670">·Control output (OUT2) (Heating/Cooling control)</tspan><tspan x="1288" y="694">is optional.</tspan><tspan x="1288" y="719">This option is not available for the PC-955 type.</tspan></text>
<text class="nt" x="1244" y="791">·Time signal output is optional.</text>
</g>

<g id="n-tsblock"><rect class="lbd" x="226" y="695" width="145" height="101"/><rect class="dsd" x="226" y="796" width="145" height="44"/><text class="t b"><tspan x="232" y="739">Time signal</tspan><tspan x="232" y="770">block</tspan></text><text class="g7n" x="236" y="832">Γ._0.0.</text></g>
<g id="n-00f"><rect class="lbd" x="442" y="695" width="145" height="101"/><rect class="dsd" x="442" y="796" width="145" height="44"/><text class="t"><tspan x="450" y="724">Time signal</tspan><tspan x="450" y="747">output</tspan><tspan x="450" y="769">OFF time</tspan><tspan x="450" y="792">setting</tspan></text><text class="g7" x="454" y="832">00_F</text></g>
<g id="n-00n"><rect class="lbd" x="658" y="695" width="145" height="101"/><rect class="dsd" x="658" y="796" width="145" height="44"/><text class="t"><tspan x="666" y="724">Time signal</tspan><tspan x="666" y="747">output</tspan><tspan x="666" y="769">ON time</tspan><tspan x="666" y="792">setting</tspan></text><text class="g7" x="670" y="832">00_n</text></g>
<g id="n-15f"><rect class="dsd" x="442" y="911" width="145" height="44"/><text class="g7" x="454" y="948">15_F</text></g>
<g id="n-15n"><rect class="dsd" x="658" y="911" width="145" height="44"/><text class="g7" x="670" y="948">15_n</text></g>
<g id="notes-ts">
<text class="sm" x="402" y="691">‹ Block No. 0 ›</text><text class="sm" x="402" y="907">‹ Block No.15 ›</text>
<text class="t19"><tspan x="527" y="859">Block number</tspan><tspan x="527" y="876">changes from</tspan><tspan x="527" y="892">0 to 15.</tspan></text>
<text class="pi"><tspan x="884" y="794">The item proceeds to the Time signal</tspan><tspan x="884" y="818">output OFF time setting for block 1,</tspan><tspan x="884" y="842">and continues to block 15</tspan></text>
</g>

<g id="n-waitblock"><rect class="fr" x="226" y="1016" width="147" height="149"/><rect class="bl" x="232" y="1022" width="135" height="93"/><rect class="wh" x="232" y="1122" width="135" height="36"/><text class="t b" x="236" y="1078">Wait block</text><text class="g7n" x="238" y="1154">ū._0.0.</text></g>
<g id="n-w0"><rect class="lb" x="442" y="1016" width="145" height="104"/><rect class="ds" x="442" y="1120" width="145" height="43"/><text class="t"><tspan x="449" y="1062">Wait value</tspan><tspan x="449" y="1093">setting</tspan></text><text class="g7" x="454" y="1156">ū0_</text></g>
<g id="n-w9"><rect class="ds" x="442" y="1235" width="145" height="44"/><text class="g7" x="454" y="1272">ū9_</text></g>
<g id="notes-wait">
<text class="sm" x="402" y="1013">‹ Block No. 0 ›</text><text class="sm" x="402" y="1231">‹ Block No. 9 ›</text>
<text class="t19"><tspan x="520" y="1179">Block number</tspan><tspan x="520" y="1196">changes from</tspan><tspan x="520" y="1210">0 to 9.</tspan></text>
<text class="pi"><tspan x="668" y="1118">The item proceeds to the Wait value</tspan><tspan x="668" y="1142">setting for Block 1, and continues</tspan><tspan x="668" y="1166">to block 9</tspan></text>
</g>

<g id="n-alarmblock"><rect class="fr" x="226" y="1342" width="147" height="147"/><rect class="bl" x="232" y="1348" width="135" height="93"/><rect class="wh" x="232" y="1448" width="135" height="35"/><text class="t b" x="232" y="1401">Alarm block</text><text class="g7n" x="238" y="1478">A._0.0.</text></g>
<g id="n-a01"><rect class="lb" x="442" y="1342" width="145" height="103"/><rect class="ds" x="442" y="1445" width="145" height="43"/><text class="t"><tspan x="448" y="1376">Alarm1 (A1)</tspan><tspan x="448" y="1407">action point</tspan><tspan x="448" y="1438">setting</tspan></text><text class="g7" x="454" y="1481">A0_ I</text></g>
<g id="n-a02"><rect class="lbd" x="658" y="1342" width="145" height="103"/><rect class="dsd" x="658" y="1445" width="145" height="43"/><text class="t"><tspan x="664" y="1376">Alarm2 (A2)</tspan><tspan x="664" y="1407">action point</tspan><tspan x="664" y="1438">setting</tspan></text><text class="g7" x="670" y="1481">A0_2</text></g>
<g id="n-a03"><rect class="lb" x="874" y="1342" width="145" height="103"/><rect class="ds" x="874" y="1445" width="145" height="43"/><text class="t"><tspan x="880" y="1376">Alarm3 (A3)</tspan><tspan x="880" y="1407">action point</tspan><tspan x="880" y="1438">setting</tspan></text><text class="g7" x="886" y="1481">A0_3</text></g>
<g id="n-a04"><rect class="lb" x="1090" y="1342" width="145" height="103"/><rect class="ds" x="1090" y="1445" width="145" height="43"/><text class="t"><tspan x="1096" y="1376">Alarm4 (A4)</tspan><tspan x="1096" y="1407">action point</tspan><tspan x="1096" y="1438">setting</tspan></text><text class="g7" x="1102" y="1481">A0_4</text></g>
<g id="n-a91"><rect class="ds" x="442" y="1559" width="145" height="44"/><text class="g7" x="454" y="1596">A9_ I</text></g>
<g id="n-a92"><rect class="dsd" x="658" y="1559" width="145" height="44"/><text class="g7" x="670" y="1596">A9_2</text></g>
<g id="n-a93"><rect class="ds" x="874" y="1559" width="145" height="44"/><text class="g7" x="886" y="1596">A9_3</text></g>
<g id="n-a94"><rect class="ds" x="1090" y="1559" width="145" height="44"/><text class="g7" x="1102" y="1596">A9_4</text></g>
<g id="notes-alarm">
<text class="sm" x="402" y="1339">‹ Block No. 0 ›</text><text class="sm" x="402" y="1555">‹ Block No. 9 ›</text>
<text class="t19"><tspan x="520" y="1503">Block number</tspan><tspan x="520" y="1520">changes from</tspan><tspan x="520" y="1535">0 to 9.</tspan></text>
<text class="pi"><tspan x="1316" y="1441">The item proceeds to Alarm1 (A1)</tspan><tspan x="1316" y="1466">action point setting for block 1, and</tspan><tspan x="1316" y="1491">continues to block 9</tspan></text>
<text class="nt"><tspan x="1678" y="1515">·A1 setting item is not indicated because Alarm1 (A1) is set to Pattern end output</tspan><tspan x="1684" y="1540">as default.</tspan><tspan x="1678" y="1564">·Alarm2 (A2) is optional. This option is not available for the PC-955 type.</tspan><tspan x="1678" y="1588">·Select the alarm action for Alarm1 (A1) and 2 (A2) by means of the Rotary switches, Alarm3 (A3)</tspan><tspan x="1684" y="1613">and 4 (A4) by keypad.</tspan><tspan x="1684" y="1637">When No alarm action or Pattern end output is selected, alarm setting items are not  indicated.</tspan></text>
</g>

<g id="n-outblock"><rect class="fr" x="226" y="1666" width="147" height="147"/><rect class="bl" x="232" y="1672" width="135" height="93"/><rect class="wh" x="232" y="1772" width="135" height="35"/><text class="t b"><tspan x="236" y="1710">Output</tspan><tspan x="236" y="1741">block</tspan></text><text class="g7n" x="238" y="1802">o._0.0.</text></g>
<g id="n-o0h"><rect class="lb" x="442" y="1666" width="145" height="103"/><rect class="ds" x="442" y="1769" width="145" height="43"/><text class="t22"><tspan x="450" y="1695">Control out-</tspan><tspan x="450" y="1718">put (OUT1)</tspan><tspan x="450" y="1741">high limit</tspan><tspan x="450" y="1765">setting</tspan></text><text class="g7" x="454" y="1805">o0_H</text></g>
<g id="n-o0l"><rect class="lb" x="658" y="1666" width="145" height="103"/><rect class="ds" x="658" y="1769" width="145" height="43"/><text class="t22"><tspan x="666" y="1695">Control out-</tspan><tspan x="666" y="1718">put (OUT1)</tspan><tspan x="666" y="1741">low limit</tspan><tspan x="666" y="1765">setting</tspan></text><text class="g7" x="670" y="1805">o0_L</text></g>
<g id="n-o0hb"><rect class="lbd" x="874" y="1666" width="145" height="103"/><rect class="dsd" x="874" y="1769" width="145" height="43"/><text class="t22"><tspan x="882" y="1695">Control out-</tspan><tspan x="882" y="1718">put (OUT2)</tspan><tspan x="882" y="1741">high limit</tspan><tspan x="882" y="1765">setting</tspan></text><text class="g7" x="886" y="1805">o0Hb</text></g>
<g id="n-o0lb"><rect class="lbd" x="1090" y="1666" width="145" height="103"/><rect class="dsd" x="1090" y="1769" width="145" height="43"/><text class="t22"><tspan x="1098" y="1695">Control out-</tspan><tspan x="1098" y="1718">put (OUT2)</tspan><tspan x="1098" y="1741">low limit</tspan><tspan x="1098" y="1765">setting</tspan></text><text class="g7" x="1102" y="1805">o0Lb</text></g>
<g id="n-o0cl"><rect class="lb" x="1306" y="1666" width="145" height="103"/><rect class="ds" x="1306" y="1769" width="145" height="43"/><text class="t21"><tspan x="1313" y="1695">Control out-</tspan><tspan x="1313" y="1718">put (OUT1)</tspan><tspan x="1313" y="1741">rate of change</tspan><tspan x="1313" y="1765">limit setting</tspan></text><text class="g7" x="1318" y="1805">o0cL</text></g>
<g id="n-o9h"><rect class="ds" x="442" y="1883" width="145" height="43"/><text class="g7" x="454" y="1919">o9_H</text></g>
<g id="n-o9l"><rect class="ds" x="658" y="1883" width="145" height="43"/><text class="g7" x="670" y="1919">o9_L</text></g>
<g id="n-o9hb"><rect class="dsd" x="874" y="1883" width="145" height="43"/><text class="g7" x="886" y="1919">o9Hb</text></g>
<g id="n-o9lb"><rect class="dsd" x="1090" y="1883" width="145" height="43"/><text class="g7" x="1102" y="1919">o9Lb</text></g>
<g id="n-o9cl"><rect class="ds" x="1306" y="1883" width="145" height="43"/><text class="g7" x="1318" y="1919">o9cL</text></g>
<g id="notes-output">
<text class="sm" x="402" y="1662">‹ Block No. 0 ›</text><text class="sm" x="402" y="1879">‹ Block No. 9 ›</text>
<text class="t19"><tspan x="524" y="1830">Block number</tspan><tspan x="524" y="1847">changes from</tspan><tspan x="524" y="1863">0 to 9.</tspan></text>
<text class="pi"><tspan x="1532" y="1754">The item proceeds to the Control</tspan><tspan x="1532" y="1778">output (OUT1) high limit setting for</tspan><tspan x="1532" y="1802">block 1, and continues to</tspan><tspan x="1532" y="1827">block 9.</tspan></text>
<text class="nt19"><tspan x="1895" y="1766">·Control output (OUT2) (Heating/Cooling control)</tspan><tspan x="1900" y="1787">is optional.</tspan><tspan x="1900" y="1807">This option is not available for the PC-955 type.</tspan><tspan x="1895" y="1827">·For the PC-955 type, only Control output (OUT1)</tspan><tspan x="1900" y="1847">rate of change limit is indicated.</tspan></text>
</g>

<!-- ================= SECTION: REPEAT / LINK ================= -->
<g id="mode-repeat"><rect class="fr" x="4" y="1984" width="150" height="152"/><rect class="gy" x="10" y="1990" width="139" height="96"/><rect class="wh" x="10" y="2093" width="139" height="37"/><text class="t20 b"><tspan x="12" y="2012">Number of</tspan><tspan x="12" y="2030">repeat and</tspan><tspan x="12" y="2047">pattern link</tspan><tspan x="12" y="2065">setting</tspan><tspan x="12" y="2082">mode</tspan></text><text class="g7n" x="18" y="2125">c.H.I .n.</text></g>
<g id="n-repeat"><rect class="lb" x="442" y="1987" width="145" height="102"/><rect class="ds" x="442" y="2089" width="145" height="43"/><text class="t22"><tspan x="453" y="2015">Number of</tspan><tspan x="453" y="2040">repeat for</tspan><tspan x="453" y="2061">pattern 0</tspan><tspan x="453" y="2085">setting</tspan></text><text class="g7" x="454" y="2125">rEPΓ</text></g>
<g id="n-link"><rect class="lb" x="658" y="1987" width="145" height="102"/><rect class="ds" x="658" y="2089" width="145" height="43"/><text class="t19"><tspan x="662" y="2014">Pattern link se-</tspan><tspan x="662" y="2031">lection between</tspan><tspan x="662" y="2050">Pattern 0 and</tspan><tspan x="662" y="2067">Pattern 1</tspan></text><text class="g7" x="670" y="2125">cHI n</text></g>
<g id="n-repeat-9"><rect class="ds" x="442" y="2204" width="145" height="44"/><text class="g7" x="454" y="2241">rEPΓ</text></g>
<g id="n-link-9"><rect class="ds" x="658" y="2204" width="145" height="44"/><text class="g7" x="670" y="2241">cHI n</text></g>
<g id="notes-repeat">
<text class="sm" x="398" y="1983">‹ Pattern No. 0 ›</text><text class="sm" x="390" y="2201">‹ Pattern No. 9 ›</text>
<text class="t19"><tspan x="520" y="2150">Pattern number</tspan><tspan x="520" y="2169">changes from 0</tspan><tspan x="520" y="2186">to 9</tspan></text>
<text class="pi"><tspan x="885" y="2087">The item proceeds to the Number of</tspan><tspan x="885" y="2112">repeat for pattern 1,</tspan><tspan x="885" y="2136">and conntinues to pattern 9.</tspan></text>
<text class="t19" x="1265" y="1990">·Number of repeat for pattern 0 setting</text>
<text class="nt19" x="1276" y="2014">PTN display : Indicates the pattern number desired to be repeated.</text>
<text class="t19" x="1265" y="2061">·Pattern link selection Between Pattern 0 and Pattern 1</text>
<text class="nt19"><tspan x="1276" y="2086">PTN display : Indicates the pattern number desired to be linked.</tspan><tspan x="1276" y="2111">SV/MV/TIME display : Displays characters below.</tspan></text>
<text class="t19 b" x="1485" y="2136">- - - -</text><text class="nt19" x="1567" y="2136">: Pattern link Disabled</text>
<text class="t20" style="font-style:italic;font-weight:bold" x="1485" y="2161">cHI n</text><text class="nt19" x="1567" y="2160">: Pattern link Enabled</text>
</g>

<!-- ================= SECTION: PID AT ================= -->
<g id="mode-at"><rect class="fr" x="4" y="2290" width="150" height="151"/><rect class="gy" x="10" y="2296" width="139" height="95"/><rect class="wh" x="10" y="2398" width="139" height="37"/><text class="t b"><tspan x="12" y="2320">PID</tspan><tspan x="12" y="2342">auto-tuning</tspan><tspan x="12" y="2364">Perform</tspan><tspan x="12" y="2385">mode</tspan></text><text class="g7n" x="18" y="2430">A.Γ. . . .</text></g>
<g id="n-ats"><rect class="lb" x="442" y="2293" width="145" height="103"/><rect class="ds" x="442" y="2396" width="145" height="42"/><text class="t"><tspan x="448" y="2320">PID</tspan><tspan x="448" y="2342">auto-tuning</tspan><tspan x="448" y="2364">action</tspan><tspan x="448" y="2385">selection</tspan></text><text class="g7" x="454" y="2431">AΓ5</text></g>
<g id="n-at"><rect class="lb" x="658" y="2293" width="145" height="103"/><rect class="ds" x="658" y="2396" width="145" height="42"/><text class="t"><tspan x="663" y="2320">PID</tspan><tspan x="663" y="2342">auto-tuning</tspan><tspan x="663" y="2364">Performance</tspan><tspan x="663" y="2385">/Cancellation</tspan></text><text class="g7" x="670" y="2431">AΓ</text></g>
<g id="notes-at">
<text class="t19" x="904" y="2284">·PID auto-tuning action selection</text>
<text class="nt19" x="914" y="2308">SV/MV/TIME display : Displays characters  below.</text>
<text class="t20" style="font-style:italic;font-weight:bold" x="1110" y="2332">noāL</text><text class="nt19" x="1185" y="2332">: Normal mode PID auto-tuning</text>
<text class="t20" style="font-style:italic;font-weight:bold" x="1110" y="2356">n̄ULΓ</text><text class="nt19" x="1185" y="2355">: Multi mode PID auto-tuning</text>
<text class="t19" x="904" y="2381">·PID auto-tuning Performance/Cancellation</text>
<text class="nt19" x="914" y="2405">SV/MV/TIME display : Displays characters below.</text>
<text class="t19 b" x="1113" y="2429">- - - -</text><text class="nt19" x="1185" y="2429">: PID auto-tuning Cancellation</text>
<text class="t20" style="font-style:italic;font-weight:bold" x="1110" y="2453">AΓ</text><text class="nt19" x="1185" y="2453">: PID auto-tuning Performance (Only effective in Program control)</text>
<text class="nt19"><tspan x="2380" y="2288">·A1 setting items are not indicated because Alarm1 (A1) is set</tspan><tspan x="2385" y="2312">to Pattern end output as default.</tspan><tspan x="2380" y="2337">·Alarm2 (A2) is optional.</tspan><tspan x="2385" y="2361">This option is not available for the PC-955 type.</tspan><tspan x="2380" y="2386">·Select the alarm action for Alarm1 (A1) and 2 (A2) by means of</tspan><tspan x="2385" y="2410">the Rotary switches, Alarm3 (A3) and 4 (A4) by keypad.</tspan><tspan x="2385" y="2434">When No alarm action or Pattern end output is selected, alarm</tspan><tspan x="2385" y="2459">setting items are not indicated.</tspan></text>
</g>

<!-- ================= SECTION: ATTACHED ================= -->
<g id="mode-attached"><rect class="fr" x="4" y="2489" width="150" height="149"/><rect class="gy" x="10" y="2495" width="139" height="94"/><rect class="wh" x="10" y="2596" width="139" height="36"/><text class="t b"><tspan x="16" y="2518">Attached</tspan><tspan x="16" y="2541">function</tspan><tspan x="16" y="2563">setting</tspan><tspan x="16" y="2584">mode</tspan></text><text class="g7n" x="18" y="2628">c.o.n.d.</text></g>
<g id="n-alarmparam"><rect class="fr" x="226" y="2490" width="147" height="148"/><rect class="bl" x="232" y="2496" width="135" height="93"/><rect class="wh" x="232" y="2597" width="135" height="35"/><text class="t b"><tspan x="236" y="2535">Alarm</tspan><tspan x="236" y="2566">parameter</tspan></text><text class="g7n" x="238" y="2627">A.L.n̄. .</text></g>
<g id="n-al3f"><rect class="lb" x="442" y="2490" width="145" height="103"/><rect class="ds" x="442" y="2593" width="145" height="43"/><text class="t"><tspan x="448" y="2525">Alarm3 (A3)</tspan><tspan x="448" y="2557">type</tspan><tspan x="448" y="2587">selection</tspan></text><text class="g7" x="454" y="2629">AL 3F</text></g>
<g id="n-al4f"><rect class="lb" x="658" y="2490" width="145" height="103"/><rect class="ds" x="658" y="2593" width="145" height="43"/><text class="t"><tspan x="664" y="2525">Alarm4 (A4)</tspan><tspan x="664" y="2557">type</tspan><tspan x="664" y="2587">selection</tspan></text><text class="g7" x="670" y="2629">AL 4F</text></g>
<g id="n-a1hy"><rect class="lb" x="874" y="2490" width="145" height="103"/><rect class="ds" x="874" y="2593" width="145" height="43"/><text class="t"><tspan x="880" y="2525">Alarm1 (A1)</tspan><tspan x="880" y="2557">hysteresis</tspan><tspan x="880" y="2587">setting</tspan></text><text class="g7" x="886" y="2629">A IHY</text></g>
<g id="n-a2hy"><rect class="lbd" x="1090" y="2490" width="145" height="103"/><rect class="dsd" x="1090" y="2593" width="145" height="43"/><text class="t"><tspan x="1096" y="2525">Alarm2 (A2)</tspan><tspan x="1096" y="2557">hysteresis</tspan><tspan x="1096" y="2587">setting</tspan></text><text class="g7" x="1102" y="2629">A2HY</text></g>
<g id="n-a3hy"><rect class="lb" x="1306" y="2490" width="145" height="103"/><rect class="ds" x="1306" y="2593" width="145" height="43"/><text class="t"><tspan x="1312" y="2525">Alarm3 (A3)</tspan><tspan x="1312" y="2557">hysteresis</tspan><tspan x="1312" y="2587">setting</tspan></text><text class="g7" x="1318" y="2629">A3HY</text></g>
<g id="n-a4hy"><rect class="lb" x="1522" y="2490" width="145" height="103"/><rect class="ds" x="1522" y="2593" width="145" height="43"/><text class="t"><tspan x="1528" y="2525">Alarm4 (A4)</tspan><tspan x="1528" y="2557">hysteresis</tspan><tspan x="1528" y="2587">setting</tspan></text><text class="g7" x="1534" y="2629">A4HY</text></g>
<g id="n-a1dy"><rect class="lb" x="1738" y="2490" width="145" height="103"/><rect class="ds" x="1738" y="2593" width="145" height="43"/><text class="t21"><tspan x="1744" y="2525">Alarm1 (A1)</tspan><tspan x="1744" y="2555">delayed timer</tspan><tspan x="1744" y="2584">setting</tspan></text><text class="g7" x="1750" y="2629">A IdY</text></g>
<g id="n-a2dy"><rect class="lbd" x="1954" y="2490" width="145" height="103"/><rect class="dsd" x="1954" y="2593" width="145" height="43"/><text class="t21"><tspan x="1960" y="2525">Alarm2 (A2)</tspan><tspan x="1960" y="2555">delayed timer</tspan><tspan x="1960" y="2584">setting</tspan></text><text class="g7" x="1966" y="2629">A2dY</text></g>
<g id="n-a3dy"><rect class="lb" x="2170" y="2490" width="145" height="103"/><rect class="ds" x="2170" y="2593" width="145" height="43"/><text class="t21"><tspan x="2176" y="2525">Alarm3 (A3)</tspan><tspan x="2176" y="2555">delayed timer</tspan><tspan x="2176" y="2584">setting</tspan></text><text class="g7" x="2182" y="2629">A3dY</text></g>
<g id="n-a4dy"><rect class="lb" x="2386" y="2490" width="145" height="103"/><rect class="ds" x="2386" y="2593" width="145" height="43"/><text class="t21"><tspan x="2392" y="2525">Alarm4 (A4)</tspan><tspan x="2392" y="2555">delayed timer</tspan><tspan x="2392" y="2584">setting</tspan></text><text class="g7" x="2398" y="2629">A4dY</text></g>
<g id="n-lpt"><rect class="lbd" x="2474" y="2671" width="145" height="101"/><rect class="dsd" x="2474" y="2772" width="145" height="44"/><text class="t"><tspan x="2480" y="2706">Loop break</tspan><tspan x="2480" y="2737">alarm time</tspan><tspan x="2480" y="2766">setting</tspan></text><text class="g7" x="2486" y="2808">LP_Γ</text></g>
<g id="n-lph"><rect class="lbd" x="2690" y="2671" width="145" height="101"/><rect class="dsd" x="2690" y="2772" width="145" height="44"/><text class="t"><tspan x="2696" y="2706">Loop break</tspan><tspan x="2696" y="2737">alarm span</tspan><tspan x="2696" y="2766">setting</tspan></text><text class="g7" x="2702" y="2808">LP_H</text></g>
<text class="nt" x="2612" y="2840">· Loop break alarm is optional.</text>

<g id="n-outparam"><rect class="fr" x="226" y="2688" width="147" height="148"/><rect class="bl" x="232" y="2694" width="135" height="93"/><rect class="wh" x="232" y="2795" width="135" height="35"/><text class="t b"><tspan x="236" y="2733">Output</tspan><tspan x="236" y="2764">parameter</tspan></text><text class="g7n" x="238" y="2825">o.U.Γ. .</text></g>
<g id="n-c"><rect class="lb" x="442" y="2690" width="145" height="100"/><rect class="ds" x="442" y="2790" width="145" height="44"/><text class="t22"><tspan x="448" y="2718">Control out-</tspan><tspan x="448" y="2741">put (OUT1)</tspan><tspan x="448" y="2764">proportional</tspan><tspan x="448" y="2787">cycle setting</tspan></text><text class="g7" x="454" y="2826">c</text></g>
<g id="n-hys"><rect class="lb" x="658" y="2690" width="145" height="100"/><rect class="ds" x="658" y="2790" width="145" height="44"/><text class="t20"><tspan x="668" y="2711">Control out-</tspan><tspan x="668" y="2729">put (OUT1)</tspan><tspan x="668" y="2747">ON/OFF</tspan><tspan x="668" y="2766">hysteresis</tspan><tspan x="668" y="2784">setting</tspan></text><text class="g7" x="670" y="2826">HY5</text></g>
<g id="n-cb"><rect class="lbd" x="874" y="2690" width="145" height="100"/><rect class="dsd" x="874" y="2790" width="145" height="44"/><text class="t22"><tspan x="880" y="2718">Control out-</tspan><tspan x="880" y="2741">put (OUT2)</tspan><tspan x="880" y="2764">proportional</tspan><tspan x="880" y="2787">cycle setting</tspan></text><text class="g7" x="886" y="2826">c_b</text></g>
<g id="n-cact"><rect class="lbd" x="1090" y="2690" width="145" height="100"/><rect class="dsd" x="1090" y="2790" width="145" height="44"/><text class="t22"><tspan x="1096" y="2718">Control out-</tspan><tspan x="1096" y="2741">put (OUT2)</tspan><tspan x="1096" y="2764">action</tspan><tspan x="1096" y="2787">selection</tspan></text><text class="g7" x="1102" y="2826">cAcΓ</text></g>
<g id="n-hysb"><rect class="lbd" x="1306" y="2690" width="145" height="100"/><rect class="dsd" x="1306" y="2790" width="145" height="44"/><text class="t20"><tspan x="1316" y="2711">Control out-</tspan><tspan x="1316" y="2729">put (OUT2)</tspan><tspan x="1316" y="2747">ON/OFF</tspan><tspan x="1316" y="2766">hysteresis</tspan><tspan x="1316" y="2784">setting</tspan></text><text class="g7" x="1318" y="2826">HY5b</text></g>
<g id="n-db"><rect class="lbd" x="1522" y="2690" width="145" height="100"/><rect class="dsd" x="1522" y="2790" width="145" height="44"/><text class="t22"><tspan x="1528" y="2722">Overlap band</tspan><tspan x="1528" y="2750">/Dead band</tspan><tspan x="1528" y="2777">setting</tspan></text><text class="g7" x="1534" y="2826">db</text></g>
<g id="n-pdb"><rect class="lb" x="1738" y="2690" width="145" height="100"/><rect class="ds" x="1738" y="2790" width="145" height="44"/><text class="t22"><tspan x="1744" y="2718">Open/Closed</tspan><tspan x="1744" y="2741">output</tspan><tspan x="1744" y="2762">Dead band</tspan><tspan x="1744" y="2784">setting</tspan></text><text class="g7" x="1750" y="2826">P_db</text></g>
<g id="n-pot"><rect class="lb" x="1954" y="2690" width="145" height="100"/><rect class="ds" x="1954" y="2790" width="145" height="44"/><text class="t"><tspan x="1960" y="2718">Open</tspan><tspan x="1960" y="2741">output</tspan><tspan x="1960" y="2764">time</tspan><tspan x="1960" y="2787">setting</tspan></text><text class="g7" x="1966" y="2826">PoΓ</text></g>
<g id="n-pct"><rect class="lb" x="2170" y="2690" width="145" height="100"/><rect class="ds" x="2170" y="2790" width="145" height="44"/><text class="t"><tspan x="2176" y="2718">Closed</tspan><tspan x="2176" y="2741">output</tspan><tspan x="2176" y="2764">time</tspan><tspan x="2176" y="2787">setting</tspan></text><text class="g7" x="2182" y="2826">PcΓ</text></g>
<text class="nt"><tspan x="1479" y="2881">·Control output (OUT2) (Heating/Cooling) is optional.</tspan><tspan x="1484" y="2905">This option is not available for the PC-955 type.</tspan><tspan x="1479" y="2930">·If Control output (OUT1) or Control output (OUT2) is Current output type, the item</tspan><tspan x="1484" y="2954">Proportional cycle for Control output (OUT1) or Control output (OUT2) is  not indicated.</tspan><tspan x="1479" y="2978">·For the PC-955 type, the item Control output (OUT1) ON/OFF hysteresis is not indicated.</tspan><tspan x="1479" y="3002">·The setting items on and after Open/Closed output Dead band are indicated only for the</tspan><tspan x="1489" y="3027">PC-955 type.</tspan></text>

<g id="n-svlimit"><rect class="fr" x="226" y="2886" width="147" height="148"/><rect class="bl" x="232" y="2892" width="135" height="93"/><rect class="wh" x="232" y="2993" width="135" height="35"/><text class="t b" x="236" y="2946">SV limit</text><text class="g7n" x="238" y="3023">5.L.I.n̄.</text></g>
<g id="n-sh"><rect class="lb" x="442" y="2888" width="145" height="100"/><rect class="ds" x="442" y="2988" width="145" height="43"/><text class="t"><tspan x="452" y="2914">SV</tspan><tspan x="452" y="2939">high limit</tspan><tspan x="452" y="2962">setting</tspan></text><text class="g7" x="454" y="3024">5H</text></g>
<g id="n-sl"><rect class="lb" x="658" y="2888" width="145" height="100"/><rect class="ds" x="658" y="2988" width="145" height="43"/><text class="t"><tspan x="668" y="2914">SV</tspan><tspan x="668" y="2939">low limit</tspan><tspan x="668" y="2962">setting</tspan></text><text class="g7" x="670" y="3024">5L</text></g>

<g id="n-transparam"><rect class="lbd" x="226" y="3084" width="145" height="102"/><rect class="dsd" x="226" y="3186" width="145" height="45"/><text class="t b"><tspan x="233" y="3118">Transmis-</tspan><tspan x="233" y="3150">sion output</tspan><tspan x="233" y="3181">parameter</tspan></text><text class="g7n" x="238" y="3222">Γ.r.o. .</text></g>
<g id="n-tros"><rect class="lbd" x="442" y="3086" width="145" height="100"/><rect class="dsd" x="442" y="3186" width="145" height="43"/><text class="t"><tspan x="452" y="3114">Transmis-</tspan><tspan x="452" y="3137">sion output</tspan><tspan x="452" y="3160">type</tspan><tspan x="452" y="3183">selection</tspan></text><text class="g7" x="454" y="3222">Γro5</text></g>
<g id="n-trlh"><rect class="lbd" x="658" y="3086" width="145" height="100"/><rect class="dsd" x="658" y="3186" width="145" height="43"/><text class="t"><tspan x="668" y="3114">Transmis-</tspan><tspan x="668" y="3137">sion output</tspan><tspan x="668" y="3160">high limit</tspan><tspan x="668" y="3183">setting</tspan></text><text class="g7" x="670" y="3222">ΓrLH</text></g>
<g id="n-trll"><rect class="lbd" x="874" y="3086" width="145" height="100"/><rect class="dsd" x="874" y="3186" width="145" height="43"/><text class="t"><tspan x="884" y="3114">Transmis-</tspan><tspan x="884" y="3137">sion output</tspan><tspan x="884" y="3160">low limit</tspan><tspan x="884" y="3183">setting</tspan></text><text class="g7" x="886" y="3222">ΓrLL</text></g>
<text class="nt" x="1105" y="3115">·Transmission output is optional.</text>

<g id="n-inparam"><rect class="fr" x="226" y="3282" width="147" height="146"/><rect class="bl" x="232" y="3288" width="135" height="92"/><rect class="wh" x="232" y="3387" width="135" height="35"/><text class="t b"><tspan x="236" y="3327">Input</tspan><tspan x="236" y="3358">parameter</tspan></text><text class="g7n" x="240" y="3417">I .n.P. .</text></g>
<g id="n-stlh"><rect class="lb" x="442" y="3284" width="145" height="100"/><rect class="ds" x="442" y="3384" width="145" height="42"/><text class="t"><tspan x="452" y="3312">Input</tspan><tspan x="452" y="3335">scaling</tspan><tspan x="452" y="3358">high limit</tspan><tspan x="452" y="3379">setting</tspan></text><text class="g7" x="454" y="3419">5ΓLH</text></g>
<g id="n-stll"><rect class="lb" x="658" y="3284" width="145" height="100"/><rect class="ds" x="658" y="3384" width="145" height="42"/><text class="t"><tspan x="668" y="3312">Input</tspan><tspan x="668" y="3335">scaling</tspan><tspan x="668" y="3358">low limit</tspan><tspan x="668" y="3379">setting</tspan></text><text class="g7" x="670" y="3419">5ΓLL</text></g>
<g id="n-dp"><rect class="lb" x="874" y="3284" width="145" height="100"/><rect class="ds" x="874" y="3384" width="145" height="42"/><text class="t"><tspan x="884" y="3318">Decimal</tspan><tspan x="884" y="3348">point place</tspan><tspan x="884" y="3378">selection</tspan></text><text class="g7" x="886" y="3419">dP</text></g>
<g id="n-so"><rect class="lb" x="1090" y="3284" width="145" height="100"/><rect class="ds" x="1090" y="3384" width="145" height="42"/><text class="t"><tspan x="1100" y="3318">Sensor</tspan><tspan x="1100" y="3348">correction</tspan><tspan x="1100" y="3378">setting</tspan></text><text class="g7" x="1102" y="3419">5o</text></g>
<g id="n-filt"><rect class="lb" x="1306" y="3284" width="145" height="100"/><rect class="ds" x="1306" y="3384" width="145" height="42"/><text class="t"><tspan x="1316" y="3312">PV filter</tspan><tspan x="1316" y="3335">time</tspan><tspan x="1316" y="3358">constant</tspan><tspan x="1316" y="3379">setting</tspan></text><text class="g7" x="1318" y="3419">FILΓ</text></g>
<text class="nt"><tspan x="1536" y="3313">·Decimal point place selection mode</tspan><tspan x="1541" y="3337">is indicated only when the input type</tspan><tspan x="1541" y="3361">is Current or Voltage.</tspan></text>

<g id="n-commparam"><rect class="lbd" x="226" y="3482" width="145" height="101"/><rect class="dsd" x="226" y="3583" width="145" height="43"/><text class="t b"><tspan x="233" y="3514">Communi-</tspan><tspan x="233" y="3546">cation</tspan><tspan x="233" y="3577">parameter</tspan></text><text class="g7n" x="238" y="3618">c.o.n̄.n̄.</text></g>
<g id="n-cmsp"><rect class="lbd" x="442" y="3482" width="145" height="101"/><rect class="dsd" x="442" y="3583" width="145" height="43"/><text class="t"><tspan x="452" y="3510">Communi-</tspan><tspan x="452" y="3533">cation</tspan><tspan x="452" y="3555">speed</tspan><tspan x="452" y="3579">selection</tspan></text><text class="g7" x="454" y="3619">cn̄5P</text></g>
<g id="n-cmno"><rect class="lbd" x="658" y="3482" width="145" height="101"/><rect class="dsd" x="658" y="3583" width="145" height="43"/><text class="t"><tspan x="668" y="3515">Instrument</tspan><tspan x="668" y="3546">number</tspan><tspan x="668" y="3577">setting</tspan></text><text class="g7" x="670" y="3619">cn̄no</text></g>
<g id="n-cms"><rect class="lbd" x="874" y="3482" width="145" height="101"/><rect class="dsd" x="874" y="3583" width="145" height="43"/><text class="t"><tspan x="884" y="3510">communi-</tspan><tspan x="884" y="3533">cation</tspan><tspan x="884" y="3555">mode</tspan><tspan x="884" y="3579">selection</tspan></text><text class="g7" x="886" y="3619">cn̄5</text></g>
<text class="nt" x="1105" y="3511">·Serial communication is optional.</text>

<g id="n-otherparam"><rect class="fr" x="226" y="3678" width="147" height="147"/><rect class="bl" x="232" y="3684" width="135" height="93"/><rect class="wh" x="232" y="3784" width="135" height="35"/><text class="t b"><tspan x="236" y="3723">Other</tspan><tspan x="236" y="3754">functions</tspan></text><text class="g7n" x="238" y="3814">o.Γ.E.r.</text></g>
<g id="n-lock"><rect class="lb" x="442" y="3679" width="145" height="102"/><rect class="ds" x="442" y="3781" width="145" height="43"/><text class="t"><tspan x="452" y="3707">Set value</tspan><tspan x="452" y="3729">lock</tspan><tspan x="452" y="3753">selection</tspan></text><text class="g7" x="454" y="3817">Loct</text></g>
<g id="n-ssv"><rect class="lb" x="658" y="3679" width="145" height="102"/><rect class="ds" x="658" y="3781" width="145" height="43"/><text class="t20"><tspan x="668" y="3701">Step SV</tspan><tspan x="668" y="3722">setting when</tspan><tspan x="668" y="3742">program</tspan><tspan x="668" y="3762">control starts</tspan></text><text class="g7" x="670" y="3817">5_5U</text></g>
<g id="n-ssl"><rect class="lb" x="874" y="3679" width="145" height="102"/><rect class="ds" x="874" y="3781" width="145" height="43"/><text class="t"><tspan x="880" y="3708">Program</tspan><tspan x="880" y="3731">control start</tspan><tspan x="880" y="3753">type</tspan><tspan x="880" y="3776">selection</tspan></text><text class="g7" x="886" y="3817">5_5L</text></g>
<g id="n-pret"><rect class="lb" x="1090" y="3679" width="145" height="102"/><rect class="ds" x="1090" y="3781" width="145" height="43"/><text class="t"><tspan x="1096" y="3708">Status selec-</tspan><tspan x="1096" y="3731">tion after</tspan><tspan x="1096" y="3753">power is</tspan><tspan x="1096" y="3776">restored</tspan></text><text class="g7" x="1102" y="3817">PrEΓ</text></g>
<g id="n-ms"><rect class="lb" x="1306" y="3679" width="145" height="102"/><rect class="ds" x="1306" y="3781" width="145" height="43"/><text class="t"><tspan x="1315" y="3714">Step time</tspan><tspan x="1315" y="3743">unit</tspan><tspan x="1315" y="3774">selection</tspan></text><text class="g7" x="1318" y="3817">n̄_5</text></g>
<g id="n-stm"><rect class="lb" x="1522" y="3679" width="145" height="102"/><rect class="ds" x="1522" y="3781" width="145" height="43"/><text class="t"><tspan x="1530" y="3707">Step time</tspan><tspan x="1530" y="3731">indication</tspan><tspan x="1530" y="3754">type</tspan><tspan x="1530" y="3776">selection</tspan></text><text class="g7" x="1534" y="3817">5_Γn̄</text></g>
<g id="n-ste"><rect class="lb" x="1738" y="3679" width="145" height="102"/><rect class="ds" x="1738" y="3781" width="145" height="43"/><text class="t"><tspan x="1744" y="3707">Step SV</tspan><tspan x="1744" y="3731">indication</tspan><tspan x="1744" y="3754">type</tspan><tspan x="1744" y="3776">selection</tspan></text><text class="g7" x="1750" y="3817">5_ΓE</text></g>
<g id="n-petm"><rect class="lb" x="1954" y="3679" width="145" height="102"/><rect class="ds" x="1954" y="3781" width="145" height="43"/><text class="t"><tspan x="1960" y="3707">Pattern</tspan><tspan x="1960" y="3731">end</tspan><tspan x="1960" y="3754">output time</tspan><tspan x="1960" y="3776">setting</tspan></text><text class="g7" x="1966" y="3817">PEΓn̄</text></g>
<g id="n-peh"><rect class="lb" x="2170" y="3679" width="145" height="102"/><rect class="ds" x="2170" y="3781" width="145" height="43"/><text class="t20"><tspan x="2174" y="3699">Step SV Hold</tspan><tspan x="2174" y="3717">function</tspan><tspan x="2174" y="3736">selection</tspan><tspan x="2174" y="3754">when program</tspan><tspan x="2174" y="3772">ends</tspan></text><text class="g7" x="2182" y="3817">PEH</text></g>
<g id="n-ts1"><rect class="lbd" x="1395" y="3858" width="145" height="102"/><rect class="dsd" x="1395" y="3960" width="145" height="43"/><text class="t18"><tspan x="1400" y="3882">TS1:Time signal</tspan><tspan x="1400" y="3907">output/Status</tspan><tspan x="1400" y="3931">output (RUN)</tspan><tspan x="1400" y="3956">selection</tspan></text><text class="g7" x="1405" y="3997">Γ5 15</text></g>
<g id="n-ts2"><rect class="lbd" x="1611" y="3858" width="145" height="102"/><rect class="dsd" x="1611" y="3960" width="145" height="43"/><text class="t18"><tspan x="1616" y="3882">TS2:Time signal</tspan><tspan x="1616" y="3907">output/Status</tspan><tspan x="1616" y="3931">output (HOLD)</tspan><tspan x="1616" y="3956">selection</tspan></text><text class="g7" x="1621" y="3997">Γ525</text></g>
<g id="n-ts3"><rect class="lbd" x="1827" y="3858" width="145" height="102"/><rect class="dsd" x="1827" y="3960" width="145" height="43"/><text class="t18"><tspan x="1832" y="3882">TS3:Time signal</tspan><tspan x="1832" y="3907">output/Status</tspan><tspan x="1832" y="3931">output (WAIT)</tspan><tspan x="1832" y="3956">selection</tspan></text><text class="g7" x="1837" y="3997">Γ535</text></g>
<g id="n-ts4"><rect class="lbd" x="2044" y="3858" width="145" height="102"/><rect class="dsd" x="2044" y="3960" width="145" height="43"/><text class="t18"><tspan x="2049" y="3882">TS4:Time signal</tspan><tspan x="2049" y="3907">output/Status</tspan><tspan x="2049" y="3931">output (FAST)</tspan><tspan x="2049" y="3956">selection</tspan></text><text class="g7" x="2054" y="3997">Γ545</text></g>
<g id="n-ts5"><rect class="lbd" x="2260" y="3858" width="145" height="102"/><rect class="dsd" x="2260" y="3960" width="145" height="43"/><text class="t18"><tspan x="2265" y="3882">TS5:Time signal</tspan><tspan x="2265" y="3907">output/Status</tspan><tspan x="2265" y="3931">output (STOP)</tspan><tspan x="2265" y="3956">selection</tspan></text><text class="g7" x="2270" y="3997">Γ555</text></g>
<g id="n-osf"><rect class="lb" x="2476" y="3858" width="145" height="102"/><rect class="ds" x="2476" y="3960" width="145" height="43"/><text class="t22"><tspan x="2482" y="3881">Overshoot</tspan><tspan x="2482" y="3905">suppression</tspan><tspan x="2482" y="3929">factor</tspan><tspan x="2482" y="3951">setting</tspan></text><text class="g7" x="2488" y="3997">o5F</text></g>
<g id="n-eout"><rect class="lb" x="2692" y="3858" width="145" height="102"/><rect class="ds" x="2692" y="3960" width="145" height="43"/><text class="t22"><tspan x="2698" y="3886">Output</tspan><tspan x="2698" y="3910">selection</tspan><tspan x="2698" y="3934">when input</tspan><tspan x="2698" y="3956">abnormal</tspan></text><text class="g7" x="2704" y="3997">EoUΓ</text></g>
<text class="nt"><tspan x="2434" y="3726">·Time signal output is optional.</tspan><tspan x="2434" y="3762">·Overshoot suppression factor setting item is displayed</tspan><tspan x="2441" y="3786">only when internal DIP switch 1 is set to ON.</tspan><tspan x="2434" y="3816">·The item [Output status selection when input</tspan><tspan x="2441" y="3841">abnormal] is indicated only when DC input.</tspan></text>

<g id="mode-auto"><rect class="fr" x="4" y="3874" width="150" height="151"/><rect class="gy" x="10" y="3880" width="139" height="104"/><rect class="wh" x="10" y="3989" width="139" height="30"/><text class="t b"><tspan x="12" y="3905">Auto/Man-</tspan><tspan x="12" y="3929">ual control</tspan><tspan x="12" y="3952">switching</tspan><tspan x="12" y="3974">mode</tspan></text><text class="g7n" style="font-size:31px" x="18" y="4015">n̄.A.n.U.</text></g>
<g id="n-manu"><rect class="lb" x="442" y="3877" width="145" height="101"/><rect class="ds" x="442" y="3978" width="145" height="43"/><text class="t"><tspan x="452" y="3912">Auto/Man-</tspan><tspan x="452" y="3941">ual control</tspan><tspan x="452" y="3973">switching</tspan></text><text class="g7" x="454" y="4013">n̄AnU</text></g>

<!-- ================= KEY PANEL ================= -->
<g id="panel">
<rect x="1740" y="372" width="1150" height="1115" fill="none" stroke="#222" stroke-width="5"/>
<circle cx="1762" cy="406" r="13" fill="#1e9ad6"/>
<text class="ttl" x="1779" y="416" textLength="1036">Key functions when checking or changing the contents of setting or selected item</text>
<rect x="1751" y="439" width="6" height="7" fill="#111"/><use href="#oPTN" x="1767" y="427" width="55" height="30"/><text class="pn" x="1866" y="454">:</text>
<text class="pn" x="1889" y="454" textLength="922">Increases the numeric value on the SV/MV/TIME display or changes the</text>
<text class="pn" x="1889" y="490" textLength="768">selection item. Keep pressing makes the value change faster.</text>
<rect x="1751" y="512" width="6" height="7" fill="#111"/><use href="#oADV" x="1767" y="500" width="55" height="30"/><text class="pn" x="1866" y="527">:</text>
<text class="pn" x="1889" y="527" textLength="932">Decreases the numeric value on the SV/MV/TIME display or changes the</text>
<text class="pn" x="1889" y="563" textLength="768">selection item. Keep pressing makes the value change faster.</text>
<rect x="1751" y="585" width="6" height="7" fill="#111"/><use href="#oFAST" x="1767" y="573" width="55" height="30"/><text class="pn" x="1866" y="600">:</text>
<text class="pn" x="1889" y="600" textLength="67">If the</text><use href="#oFAST" x="1966" y="575" width="55" height="30"/>
<text class="pn" x="2033" y="600" textLength="413">key is pressed together with the</text><use href="#oPTN" x="2454" y="575" width="55" height="30"/>
<text class="pn" x="2520" y="600" textLength="124">key or the</text><use href="#oADV" x="2652" y="575" width="55" height="30"/>
<text class="pn" x="2715" y="600" textLength="169">key, the value</text>
<text class="pn" x="1889" y="637" textLength="443">changes 60 times faster than usual.</text>
<circle cx="1762" cy="699" r="13" fill="#1e9ad6"/>
<text class="ttl" x="1779" y="709" textLength="284">Other Keys operations</text>
<rect x="1751" y="731" width="6" height="7" fill="#111"/><use href="#oSET" x="1767" y="719" width="55" height="30"/><text class="pn" x="1866" y="746">:</text>
<text class="pn" x="1889" y="746" textLength="477">Returns to Program control run mode.</text>
<rect x="1751" y="768" width="6" height="7" fill="#111"/><use href="#oDISP" x="1767" y="756" width="55" height="30"/><text class="pn" x="1866" y="783">:</text>
<text class="pn" x="1889" y="783" textLength="737">The mode progresses in the reverse direction of when the</text><use href="#oSTOP" x="2634" y="758" width="55" height="30"/>
<text class="pn" x="2698" y="783" textLength="77">key or</text><use href="#oHOLD" x="2797" y="758" width="55" height="30"/>
<text class="pn" x="1890" y="820" textLength="180">key is pressed.</text>
<rect x="1751" y="841" width="6" height="7" fill="#111"/><use href="#oSTOP" x="1767" y="829" width="55" height="30"/><text class="pn" style="font-size:34px" x="1836" y="859">+</text><use href="#oDISP" x="1879" y="829" width="55" height="30"/>
<text class="pn" x="1950" y="856" textLength="227">: By pressing the</text><use href="#oSTOP" x="2189" y="831" width="55" height="30"/>
<text class="pn" x="2256" y="856" textLength="43">and</text><use href="#oDISP" x="2308" y="831" width="55" height="30"/>
<text class="pn" x="2373" y="856" textLength="462">keys simultaneously when the current</text>
<text class="pn" x="1972" y="893" textLength="786">mode is [Block 0 setting], [Alarm4 (A4) action point setting] of</text>
<text class="pn" x="1963" y="929" textLength="841">the [Block setting mode], the indication will be changed as follows.</text>
<g id="mini-block"><rect class="fr" x="1951" y="944" width="150" height="151"/><rect class="gy" x="1957" y="950" width="138" height="96"/><rect class="wh" x="1957" y="1052" width="138" height="37"/><text class="t b" style="font-size:24px"><tspan x="1962" y="981">Block</tspan><tspan x="1962" y="1012">setting</tspan><tspan x="1962" y="1043">mode</tspan></text><text class="g7n" x="1966" y="1085">P.A.c.t.</text></g>
<g id="mini-alarm"><rect class="fr" x="2311" y="944" width="148" height="151"/><rect class="bl" x="2317" y="950" width="136" height="96"/><rect class="wh" x="2317" y="1052" width="136" height="37"/><text class="t b" x="2318" y="1006">Alarm block</text><text class="g7n" x="2324" y="1085">A._0.0.</text></g>
<g id="mini-a04"><rect class="lb" x="2672" y="948" width="145" height="103"/><rect class="ds" x="2672" y="1051" width="145" height="43"/><text class="t" style="font-size:24px"><tspan x="2678" y="981">Alarm4 (A4)</tspan><tspan x="2678" y="1012">action point</tspan><tspan x="2678" y="1043">setting</tspan></text><text class="g7" x="2684" y="1087">A0_4</text></g>
<use href="#oSTOP" x="2140" y="1038" width="55" height="30"/><text class="pn" style="font-size:34px" x="2212" y="1066">+</text><use href="#oDISP" x="2252" y="1038" width="55" height="30"/>
<use href="#oSTOP" x="2501" y="1038" width="55" height="30"/><text class="pn" style="font-size:34px" x="2573" y="1066">+</text><use href="#oDISP" x="2613" y="1038" width="55" height="30"/>
<rect x="1751" y="1134" width="6" height="7" fill="#111"/><use href="#oRUN" x="1767" y="1122" width="55" height="30"/><text class="pn" x="1866" y="1149">:</text>
<text class="pn" x="1889" y="1149" textLength="210">Program clearing</text>
<text class="pn" x="1881" y="1185" textLength="540">At any item in Pattern setting mode, if the</text><use href="#oRUN" x="2433" y="1161" width="55" height="30"/>
<text class="pn" x="2499" y="1185" textLength="356">key is pressed for 3 seconds,</text>
<text class="pn" x="1887" y="1221" textLength="951">the data on and after the step number be ing displayed on the STEP display</text>
<text class="pn" x="1887" y="1258" textLength="350">returns  to the default value.</text>
<rect x="1751" y="1279" width="6" height="7" fill="#111"/><use href="#oPTN" x="1766" y="1268" width="55" height="30"/><text class="pn" style="font-size:34px" x="1832" y="1297">+</text><use href="#oADV" x="1865" y="1268" width="55" height="30"/><text class="pn" style="font-size:34px" x="1929" y="1297">+</text><use href="#oDISP" x="1965" y="1268" width="55" height="30"/>
<text class="pn" x="2048" y="1294">:</text><text class="pn" x="2073" y="1294" textLength="587">Data clearing (Effective only for Standby mode)</text>
<text class="pn" x="2065" y="1330" textLength="68">If the</text><use href="#oPTN" x="2143" y="1306" width="55" height="30"/><text class="pn" x="2206" y="1330">,</text><use href="#oADV" x="2226" y="1306" width="55" height="30"/>
<text class="pn" x="2297" y="1330" textLength="43">and</text><use href="#oDISP" x="2349" y="1306" width="55" height="30"/>
<text class="pn" x="2412" y="1330" textLength="461">keys are simultaneously pressed for 3</text>
<text class="pn" x="2065" y="1367" textLength="265">seconds, character s</text><text class="pn" x="2338" y="1367">″</text><text class="g7" style="font-size:32px;letter-spacing:10px" x="2359" y="1367">cLr</text><text class="pn" x="2466" y="1367">″</text>
<text class="pn" x="2495" y="1367" textLength="387">are indicated on the PV display,</text>
<text class="pn" x="2065" y="1404" textLength="697">and all set values return to default values except for the</text>
<text class="pn" x="2065" y="1440" textLength="801">Proportional cycle of  Control output (OUT1) and Control output</text>
<text class="pn" x="2059" y="1474">(OUT2).</text>
</g>
</svg>
